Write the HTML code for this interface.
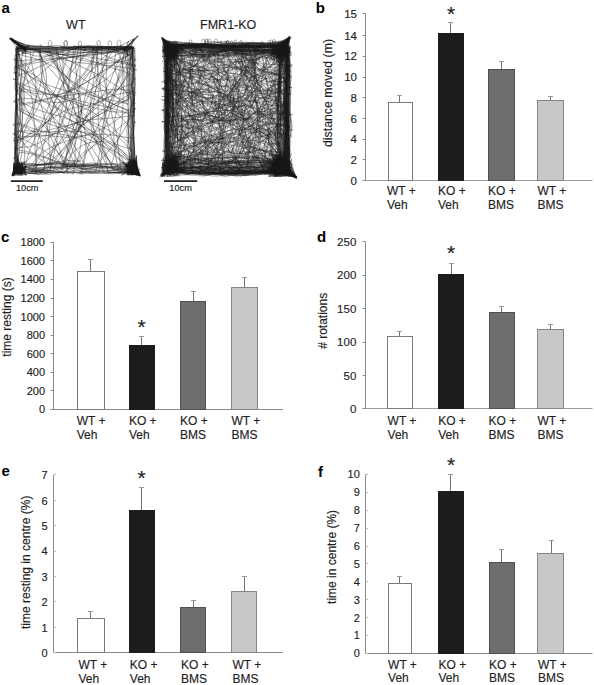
<!DOCTYPE html>
<html><head><meta charset="utf-8"><style>html,body{margin:0;padding:0;background:#fff;overflow:hidden}</style></head>
<body>
<svg width="594" height="685" viewBox="0 0 594 685" font-family='"Liberation Sans", sans-serif' style="display:block">
<style>.tx{fill:#1e1e1e;stroke:#1e1e1e;stroke-width:0.15px} .ln{fill:none;stroke-width:1px} .pl{font-weight:bold;fill:#000}</style>
<rect width="594" height="685" fill="#fff"/>
<text x="1.5" y="12.5" font-size="15" class="pl">a</text>
<text x="315.8" y="12.8" font-size="15" class="pl">b</text>
<text x="1" y="241.5" font-size="15" class="pl">c</text>
<text x="317" y="241.5" font-size="15" class="pl">d</text>
<text x="1.5" y="476" font-size="15" class="pl">e</text>
<text x="318" y="476.5" font-size="15" class="pl">f</text>
<path class="ln" d="M365.5 13.5V180.5" stroke="#8a8a8a"/>
<path class="ln" d="M362.5 180.5H592.5" stroke="#9a9a9a"/>
<path class="ln" d="M362.5 13.5H365.5" stroke="#8a8a8a"/>
<text x="357" y="17.64" font-size="11.5" text-anchor="end" class="tx">15</text>
<path class="ln" d="M362.5 35.5H365.5" stroke="#8a8a8a"/>
<text x="357" y="39.7" font-size="11.5" text-anchor="end" class="tx">14</text>
<path class="ln" d="M362.5 56.5H365.5" stroke="#8a8a8a"/>
<text x="357" y="60.42" font-size="11.5" text-anchor="end" class="tx">12</text>
<path class="ln" d="M362.5 77.5H365.5" stroke="#8a8a8a"/>
<text x="357" y="81.14" font-size="11.5" text-anchor="end" class="tx">10</text>
<path class="ln" d="M362.5 97.5H365.5" stroke="#8a8a8a"/>
<text x="357" y="101.86" font-size="11.5" text-anchor="end" class="tx">8</text>
<path class="ln" d="M362.5 118.5H365.5" stroke="#8a8a8a"/>
<text x="357" y="122.58" font-size="11.5" text-anchor="end" class="tx">6</text>
<path class="ln" d="M362.5 139.5H365.5" stroke="#8a8a8a"/>
<text x="357" y="143.3" font-size="11.5" text-anchor="end" class="tx">4</text>
<path class="ln" d="M362.5 159.5H365.5" stroke="#8a8a8a"/>
<text x="357" y="164.02" font-size="11.5" text-anchor="end" class="tx">2</text>
<path class="ln" d="M362.5 180.5H365.5" stroke="#8a8a8a"/>
<text x="357" y="184.74" font-size="11.5" text-anchor="end" class="tx">0</text>
<path class="ln" d="M399.5 95.5V102.5" stroke="#737373"/><path class="ln" d="M397.0 95.5H402.0" stroke="#999"/>
<rect x="388.5" y="102.5" width="24.0" height="78.0" fill="#ffffff" stroke="#7a7a7a"/>
<path class="ln" d="M450.5 22.5V33.5" stroke="#737373"/><path class="ln" d="M448.0 22.5H453.0" stroke="#999"/>
<rect x="438.5" y="33.5" width="25.0" height="147.0" fill="#1c1c1c" stroke="#1c1c1c"/>
<path class="ln" d="M501.5 61.5V69.5" stroke="#737373"/><path class="ln" d="M499.0 61.5H504.0" stroke="#999"/>
<rect x="488.5" y="69.5" width="26.0" height="111.0" fill="#6e6e6e" stroke="#505050"/>
<path class="ln" d="M550.5 96.5V100.5" stroke="#737373"/><path class="ln" d="M548.0 96.5H553.0" stroke="#999"/>
<rect x="537.5" y="100.5" width="26.0" height="80.0" fill="#c8c8c8" stroke="#858585"/>
<text x="451" y="20.5" font-size="21" text-anchor="middle" class="tx">*</text>
<text transform="translate(332,93) rotate(-90)" font-size="12.3" text-anchor="middle" class="tx">distance moved (m)</text>
<text x="387" y="195" font-size="12" class="tx">WT +</text>
<text x="387" y="208.5" font-size="12" class="tx">Veh</text>
<text x="438" y="195" font-size="12" class="tx">KO +</text>
<text x="438" y="208.5" font-size="12" class="tx">Veh</text>
<text x="488" y="195" font-size="12" class="tx">KO +</text>
<text x="488" y="208.5" font-size="12" class="tx">BMS</text>
<text x="537.5" y="195" font-size="12" class="tx">WT +</text>
<text x="537.5" y="208.5" font-size="12" class="tx">BMS</text>
<path class="ln" d="M53.5 242V409.5" stroke="#8a8a8a"/>
<path class="ln" d="M50.5 409.5H283" stroke="#8a8a8a"/>
<path class="ln" d="M50.5 242.5H53.5" stroke="#8a8a8a"/>
<text x="45" y="246.32" font-size="11" text-anchor="end" class="tx">1800</text>
<path class="ln" d="M50.5 260.5H53.5" stroke="#8a8a8a"/>
<text x="45" y="264.88" font-size="11" text-anchor="end" class="tx">1600</text>
<path class="ln" d="M50.5 279.5H53.5" stroke="#8a8a8a"/>
<text x="45" y="283.44" font-size="11" text-anchor="end" class="tx">1400</text>
<path class="ln" d="M50.5 298.5H53.5" stroke="#8a8a8a"/>
<text x="45" y="302" font-size="11" text-anchor="end" class="tx">1200</text>
<path class="ln" d="M50.5 316.5H53.5" stroke="#8a8a8a"/>
<text x="45" y="320.56" font-size="11" text-anchor="end" class="tx">1000</text>
<path class="ln" d="M50.5 335.5H53.5" stroke="#8a8a8a"/>
<text x="45" y="339.12" font-size="11" text-anchor="end" class="tx">800</text>
<path class="ln" d="M50.5 353.5H53.5" stroke="#8a8a8a"/>
<text x="45" y="357.68" font-size="11" text-anchor="end" class="tx">600</text>
<path class="ln" d="M50.5 372.5H53.5" stroke="#8a8a8a"/>
<text x="45" y="376.24" font-size="11" text-anchor="end" class="tx">400</text>
<path class="ln" d="M50.5 390.5H53.5" stroke="#8a8a8a"/>
<text x="45" y="394.8" font-size="11" text-anchor="end" class="tx">200</text>
<path class="ln" d="M50.5 409.5H53.5" stroke="#8a8a8a"/>
<text x="45" y="413.36" font-size="11" text-anchor="end" class="tx">0</text>
<path class="ln" d="M90.5 259.5V271.5" stroke="#737373"/><path class="ln" d="M88.0 259.5H93.0" stroke="#999"/>
<rect x="77.5" y="271.5" width="27.0" height="138.0" fill="#ffffff" stroke="#7a7a7a"/>
<path class="ln" d="M141.5 336.5V345.5" stroke="#737373"/><path class="ln" d="M139.0 336.5H144.0" stroke="#999"/>
<rect x="129.5" y="345.5" width="25.0" height="64.0" fill="#1c1c1c" stroke="#1c1c1c"/>
<path class="ln" d="M193.5 291.5V301.5" stroke="#737373"/><path class="ln" d="M191.0 291.5H196.0" stroke="#999"/>
<rect x="180.5" y="301.5" width="25.0" height="108.0" fill="#6e6e6e" stroke="#505050"/>
<path class="ln" d="M244.5 277.5V287.5" stroke="#737373"/><path class="ln" d="M242.0 277.5H247.0" stroke="#999"/>
<rect x="231.5" y="287.5" width="26.0" height="122.0" fill="#c8c8c8" stroke="#858585"/>
<text x="141.7" y="333.7" font-size="21" text-anchor="middle" class="tx">*</text>
<text transform="translate(10.5,317) rotate(-90)" font-size="12" text-anchor="middle" class="tx">time resting (s)</text>
<text x="76.7" y="425.2" font-size="12" class="tx">WT +</text>
<text x="76.7" y="438.6" font-size="12" class="tx">Veh</text>
<text x="128.9" y="425.2" font-size="12" class="tx">KO +</text>
<text x="128.9" y="438.6" font-size="12" class="tx">Veh</text>
<text x="180" y="425.2" font-size="12" class="tx">KO +</text>
<text x="180" y="438.6" font-size="12" class="tx">BMS</text>
<text x="231.5" y="425.2" font-size="12" class="tx">WT +</text>
<text x="231.5" y="438.6" font-size="12" class="tx">BMS</text>
<path class="ln" d="M365.5 241.8V408.5" stroke="#8a8a8a"/>
<path class="ln" d="M362.5 408.5H592.5" stroke="#9a9a9a"/>
<path class="ln" d="M362.5 241.5H365.5" stroke="#8a8a8a"/>
<text x="356.3" y="245.94" font-size="11.5" text-anchor="end" class="tx">250</text>
<path class="ln" d="M362.5 275.5H365.5" stroke="#8a8a8a"/>
<text x="356.3" y="279.34" font-size="11.5" text-anchor="end" class="tx">200</text>
<path class="ln" d="M362.5 308.5H365.5" stroke="#8a8a8a"/>
<text x="356.3" y="312.74" font-size="11.5" text-anchor="end" class="tx">150</text>
<path class="ln" d="M362.5 342.5H365.5" stroke="#8a8a8a"/>
<text x="356.3" y="346.14" font-size="11.5" text-anchor="end" class="tx">100</text>
<path class="ln" d="M362.5 375.5H365.5" stroke="#8a8a8a"/>
<text x="356.3" y="379.54" font-size="11.5" text-anchor="end" class="tx">50</text>
<path class="ln" d="M362.5 408.5H365.5" stroke="#8a8a8a"/>
<text x="356.3" y="412.94" font-size="11.5" text-anchor="end" class="tx">0</text>
<path class="ln" d="M399.5 331.5V336.5" stroke="#737373"/><path class="ln" d="M397.0 331.5H402.0" stroke="#999"/>
<rect x="387.5" y="336.5" width="25.0" height="72.0" fill="#ffffff" stroke="#7a7a7a"/>
<path class="ln" d="M451.5 263.5V274.5" stroke="#737373"/><path class="ln" d="M449.0 263.5H454.0" stroke="#999"/>
<rect x="438.5" y="274.5" width="25.0" height="134.0" fill="#1c1c1c" stroke="#1c1c1c"/>
<path class="ln" d="M501.5 306.5V312.5" stroke="#737373"/><path class="ln" d="M499.0 306.5H504.0" stroke="#999"/>
<rect x="489.5" y="312.5" width="25.0" height="96.0" fill="#6e6e6e" stroke="#505050"/>
<path class="ln" d="M550.5 324.5V329.5" stroke="#737373"/><path class="ln" d="M548.0 324.5H553.0" stroke="#999"/>
<rect x="537.5" y="329.5" width="26.0" height="79.0" fill="#c8c8c8" stroke="#858585"/>
<text x="451" y="260.3" font-size="21" text-anchor="middle" class="tx">*</text>
<text transform="translate(327,320.8) rotate(-90)" font-size="12" text-anchor="middle" class="tx"># rotations</text>
<text x="387.6" y="425" font-size="12" class="tx">WT +</text>
<text x="387.6" y="438.5" font-size="12" class="tx">Veh</text>
<text x="438.2" y="425" font-size="12" class="tx">KO +</text>
<text x="438.2" y="438.5" font-size="12" class="tx">Veh</text>
<text x="488.5" y="425" font-size="12" class="tx">KO +</text>
<text x="488.5" y="438.5" font-size="12" class="tx">BMS</text>
<text x="537.5" y="425" font-size="12" class="tx">WT +</text>
<text x="537.5" y="438.5" font-size="12" class="tx">BMS</text>
<path class="ln" d="M53.5 474.8V652.5" stroke="#8a8a8a"/>
<path class="ln" d="M53.5 652.5H283" stroke="#8a8a8a"/>
<path class="ln" d="M53.5 474.5H56.0" stroke="#bbb"/>
<text x="47.6" y="479.37" font-size="11" text-anchor="end" class="tx">7</text>
<path class="ln" d="M53.5 500.5H56.0" stroke="#bbb"/>
<text x="47.6" y="504.74" font-size="11" text-anchor="end" class="tx">6</text>
<path class="ln" d="M53.5 525.5H56.0" stroke="#bbb"/>
<text x="47.6" y="530.11" font-size="11" text-anchor="end" class="tx">5</text>
<path class="ln" d="M53.5 551.5H56.0" stroke="#bbb"/>
<text x="47.6" y="555.48" font-size="11" text-anchor="end" class="tx">4</text>
<path class="ln" d="M53.5 576.5H56.0" stroke="#bbb"/>
<text x="47.6" y="580.85" font-size="11" text-anchor="end" class="tx">3</text>
<path class="ln" d="M53.5 601.5H56.0" stroke="#bbb"/>
<text x="47.6" y="606.22" font-size="11" text-anchor="end" class="tx">2</text>
<path class="ln" d="M53.5 627.5H56.0" stroke="#bbb"/>
<text x="47.6" y="631.59" font-size="11" text-anchor="end" class="tx">1</text>
<path class="ln" d="M53.5 652.5H56.0" stroke="#bbb"/>
<text x="47.6" y="656.96" font-size="11" text-anchor="end" class="tx">0</text>
<path class="ln" d="M90.5 611.5V618.5" stroke="#737373"/><path class="ln" d="M88.0 611.5H93.0" stroke="#999"/>
<rect x="77.5" y="618.5" width="27.0" height="34.0" fill="#ffffff" stroke="#7a7a7a"/>
<path class="ln" d="M141.5 487.5V510.5" stroke="#737373"/><path class="ln" d="M139.0 487.5H144.0" stroke="#999"/>
<rect x="129.5" y="510.5" width="25.0" height="142.0" fill="#1c1c1c" stroke="#1c1c1c"/>
<path class="ln" d="M193.5 600.5V607.5" stroke="#737373"/><path class="ln" d="M191.0 600.5H196.0" stroke="#999"/>
<rect x="180.5" y="607.5" width="25.0" height="45.0" fill="#6e6e6e" stroke="#505050"/>
<path class="ln" d="M244.5 576.5V591.5" stroke="#737373"/><path class="ln" d="M242.0 576.5H247.0" stroke="#999"/>
<rect x="231.5" y="591.5" width="25.0" height="61.0" fill="#c8c8c8" stroke="#858585"/>
<text x="141.7" y="485" font-size="21" text-anchor="middle" class="tx">*</text>
<text transform="translate(29.5,562.3) rotate(-90)" font-size="12" text-anchor="middle" class="tx">time resting in centre (%)</text>
<text x="78.4" y="669.4" font-size="12" class="tx">WT +</text>
<text x="78.4" y="682.5" font-size="12" class="tx">Veh</text>
<text x="129.8" y="669.4" font-size="12" class="tx">KO +</text>
<text x="129.8" y="682.5" font-size="12" class="tx">Veh</text>
<text x="181" y="669.4" font-size="12" class="tx">KO +</text>
<text x="181" y="682.5" font-size="12" class="tx">BMS</text>
<text x="232.5" y="669.4" font-size="12" class="tx">WT +</text>
<text x="232.5" y="682.5" font-size="12" class="tx">BMS</text>
<path class="ln" d="M365.5 474.3V653.5" stroke="#8a8a8a"/>
<path class="ln" d="M365.5 653.5H592.5" stroke="#8a8a8a"/>
<path class="ln" d="M365.5 474.5H368.0" stroke="#bbb"/>
<text x="359.8" y="478.46" font-size="11" text-anchor="end" class="tx">10</text>
<path class="ln" d="M365.5 492.5H368.0" stroke="#bbb"/>
<text x="359.8" y="496.34" font-size="11" text-anchor="end" class="tx">9</text>
<path class="ln" d="M365.5 510.5H368.0" stroke="#bbb"/>
<text x="359.8" y="514.22" font-size="11" text-anchor="end" class="tx">8</text>
<path class="ln" d="M365.5 528.5H368.0" stroke="#bbb"/>
<text x="359.8" y="532.1" font-size="11" text-anchor="end" class="tx">7</text>
<path class="ln" d="M365.5 546.5H368.0" stroke="#bbb"/>
<text x="359.8" y="549.98" font-size="11" text-anchor="end" class="tx">6</text>
<path class="ln" d="M365.5 563.5H368.0" stroke="#bbb"/>
<text x="359.8" y="567.86" font-size="11" text-anchor="end" class="tx">5</text>
<path class="ln" d="M365.5 581.5H368.0" stroke="#bbb"/>
<text x="359.8" y="585.74" font-size="11" text-anchor="end" class="tx">4</text>
<path class="ln" d="M365.5 599.5H368.0" stroke="#bbb"/>
<text x="359.8" y="603.62" font-size="11" text-anchor="end" class="tx">3</text>
<path class="ln" d="M365.5 617.5H368.0" stroke="#bbb"/>
<text x="359.8" y="621.5" font-size="11" text-anchor="end" class="tx">2</text>
<path class="ln" d="M365.5 635.5H368.0" stroke="#bbb"/>
<text x="359.8" y="639.38" font-size="11" text-anchor="end" class="tx">1</text>
<path class="ln" d="M365.5 653.5H368.0" stroke="#bbb"/>
<text x="359.8" y="657.26" font-size="11" text-anchor="end" class="tx">0</text>
<path class="ln" d="M399.5 576.5V583.5" stroke="#737373"/><path class="ln" d="M397.0 576.5H402.0" stroke="#999"/>
<rect x="388.5" y="583.5" width="23.0" height="70.0" fill="#ffffff" stroke="#7a7a7a"/>
<path class="ln" d="M450.5 474.5V491.5" stroke="#737373"/><path class="ln" d="M448.0 474.5H453.0" stroke="#999"/>
<rect x="438.5" y="491.5" width="25.0" height="162.0" fill="#1c1c1c" stroke="#1c1c1c"/>
<path class="ln" d="M501.5 549.5V562.5" stroke="#737373"/><path class="ln" d="M499.0 549.5H504.0" stroke="#999"/>
<rect x="489.5" y="562.5" width="25.0" height="91.0" fill="#6e6e6e" stroke="#505050"/>
<path class="ln" d="M551.5 540.5V553.5" stroke="#737373"/><path class="ln" d="M549.0 540.5H554.0" stroke="#999"/>
<rect x="537.5" y="553.5" width="26.0" height="100.0" fill="#c8c8c8" stroke="#858585"/>
<text x="451" y="472" font-size="21" text-anchor="middle" class="tx">*</text>
<text transform="translate(335.5,556.9) rotate(-90)" font-size="12" text-anchor="middle" class="tx">time in centre (%)</text>
<text x="388.1" y="668.8" font-size="12" class="tx">WT +</text>
<text x="388.1" y="682.2" font-size="12" class="tx">Veh</text>
<text x="438.5" y="668.8" font-size="12" class="tx">KO +</text>
<text x="438.5" y="682.2" font-size="12" class="tx">Veh</text>
<text x="489" y="668.8" font-size="12" class="tx">KO +</text>
<text x="489" y="682.2" font-size="12" class="tx">BMS</text>
<text x="538" y="668.8" font-size="12" class="tx">WT +</text>
<text x="538" y="682.2" font-size="12" class="tx">BMS</text>
<text x="75.8" y="29.2" font-size="12.5" text-anchor="middle" class="tx">WT</text>
<text x="228.2" y="29.2" font-size="12.5" text-anchor="middle" class="tx">FMR1-KO</text>
<path class="ln" d="M10.9 181.1H42.8M164 181.1H197.2" stroke="#222" style="stroke-width:1.6px"/>
<text x="27.2" y="191.3" font-size="9.2" text-anchor="middle" class="tx">10cm</text>
<text x="180.6" y="191.3" font-size="9.2" text-anchor="middle" class="tx">10cm</text>
<defs><filter id="bl" x="0" y="0" width="1" height="1"><feGaussianBlur stdDeviation="0.35"/></filter></defs>
<g fill="none" stroke="#1a1a1a" stroke-linejoin="round" filter="url(#bl)">
<path transform="scale(0.2)" d="M351 581l208-101 47-13 69-9 2-51-5-52 4-71-2-42-19 1-13-4-33-2-15 2-84-8-76 3-27-2-21 2-5 8-35 9-36 4-91 2 198 35 58 17 68 26 72 20 50 22 2 20-2 20-123 47-25 13-22 18-38 47-63 110-30 42-49 57-69 62-41 44-10-3-24 0-73 3-14-3-2-17 4-46-5-47 0-78 6-55 73 30 53 15 36 3 99-4 49 2 52 11 47 17 27 14 26 18 86 70 26 32 0 36 13-18 8 19-20-23 4 22 11-54-31 48 7-19 28 12 1-67 0 81 16 19-4-15-18-5-2 4 8-27-22 1-11 7 33 2-11 16-54-8 46 25-5-19 31 0-7-38 0 20-3 16 3-18-16 21 12-40-20 40 15-22 9-37-47 73 22-52 25 33-10-11-3 5 12-8-10 1 11-21-31 10 31 3-44 12 21-24 3 3 5 27 17 6-2-14-36 1 19 2-15-10 2 25-15-29 5 22 40-13-9 10-5-26-14 46 32-16-82 10 70-39 8-11 0 32-2-8 2 27-9-29 9 2-5-3 1 18-8-47 24 57-48 13-27-40 38 9 19-16 6 13-13 5-32 8 1 4 25-17 5-19 14-4 0 35-26-21 2-8 24-2-1 28 1 25 0-51-27-19-14 5 28 19-20-3 31 6-11-18-15-41 28 59-75 43 75-21-38-9 51 31-40-79 5 35 4-10 7 19-27 8 45 16-49-59 42 69 0-13-36-28 26-8-14 16 22 3-2-16 3 7-31 19 32-37 0 10-33 8 30 23 3-32-41 41 41-52 0 59-43-57 35 6-29 35 24-44-69-2 82 30 0-6-21-24-15 20-12 42 40-18-1 9 9-9 11 5-11-11-7-53 5 71 2-63-39 44 28-15 11 23-6 15 6-60-48-21 36 44-16-18 19 57 9-58 1 39-1-21-12 31 1-45-13 1 2 16 3-5 19-10 18 57-46-35-13 21 38-31-12 1 2-24 19 57-6-41-8 19 1-19-8 35-5-48 20 39-29-39 29 15-31 7 29-20-13 3 15 2 0 12 11 38-11-88-33 38 22 1 11-10-23 59 35 2-12-11 0 3-27-32-2 2 29 1 0-16-10-26-4 60-21-48 16 30 14 4-22-10-35-2 62 37-23-7 23-37 0 20-10-21-40 39 50-38 0-37-32 47 32 43-20-34 6-15-25 33 39 1 10 14-46-36 23 37-5-40 9-20-16 8 17 24 8-17 0-8-14 17 14-19 8 53-8-49 0 5-5-11 5-9-31 53 47 16-36-52-47 8-61 2 45-165 12-62 9-224-1-31-13-58-27-59-17 4-53-1-28 5 0 27 14 124 24 140 15 74 22 74 26 61 35 61 42 52 6-3-14-39 33 55-4-11 1-22-12-128 0-74-6-34-3-52 2-54 2-7-1-42-4-13 4-59-2-31 3-27-2-40 2-39-77 21-40 1-26 5-201-6-75 2-26-2-21 3-40-4-22 1-23-5-26 4-3 8 0 74-1 7 3 92-6 90-6 39 2 17-2 29 4 88 63-16 125-42 119-28 54-16 90-41 138-81-8-32-3-34-5-20-3-58 2-42-5-51-17 4-16-2-130 13-18 51-23 41-110 128-72 108-109 112-40 35-38 25 24 53 11 44 47-12 23-2 15 1 54-3 23-4 26 3 34-2 3-60 6-37 15-64 19-49 25-55 116-230 62-105 15 6 36 7-31 115-24 122-27 93-25 71-40 65-27 32-64 63-68 54-67 1-8-3-16 1-38-4-59 1-19-2 15-1 29 3 26-2 55 6 37-3 25 2 30-2 38 4 32-1 62 3 15-3 10-41 13-69 14-125 25-88 45-119 26-82 34-86 3-8 20-6-4 16-4 90-96-15-90-7-110-13-41-10-121-37-72-27-39 8 2 24 52 158 19 84 8 103 4 122 8 117 0 17-47-1-16-2-35 2 3-44-7-58 1-51-3-101 7-94-9-78 4-38-2-35 2-48-3-76 52 25-12-25 8 20-6-23-51-34 50 34-18-4-34-28 47 19 5 13-47-33 50 37 9-21-74-29 87 67-94-68 68 48-7 3 3-1 13 11-1-13 88-8 33 0 20 3 63 2 33-2 29-6 57-3 14 2 7-2 118 13 36 0-11 65-2 97-5 49-10 53-20 79-8 79 5 92 22 110 17-12 15-7 36-8-13-34-4-23-3-81 3-23-4-27-1-48 1-48-185-80-91-58-31-25-33-33-45-57-51-77-7 2 11 116 18 73 29 78 71 146 15 41 21 77 21 39 54 63 48-4 140 12-12-12-18-6-56-10-50-1-19-3-44-1-7 2-36-2-17-4-64-2 39-66 14-31 17-50 12-53 6-58 1-99-16-141 4-34 12-59 22 4 19-2 24 2 32-4 30 2 16-3 46 4-10 76 6 42 14 37 21 41 49 76-6 20 0 15-9 34-1 56-3 22 2 57-39-34-72-71-52-38-39-23-178-82-37-22-35-27-67-59-49-52 9-40 1-24 30-4 91 15 41 10 61 23 43 18 74 38 87 40 98 64 31 17 29 11-4 40-7 26-2 18 2 71-5 32 3 20-3 30 4 48-2 46 3 23-4 30-32-18-27-4-18 0-58-6-41-7-70 4-104-2-63-5-55 1-46-4-62 6-3-99 2-30-1-48 5-54 1-93-4-27 2-70-2-6 3-49-2-55 2-47 3-10 31-13 0 21 5 6-56-41 36 12 18 19-1-10 4 12-71-50 68 50 21 7-19-7-73-53 53 38 7 9 9 6-15-16 12 15-19-4 23 4-2 8 0-8 18-7-16 12 71-6 14 2 80-5 56 3 27-4 16 3 57-4 81 3 23-6 8 3 47-6 61 6 1 67 6 54-4 77 8 62-9 111 4 43 0 52 4 22-3 46 2 42-1 45-31-1-48-22-35-24-28-28-31-42-24-45-13-41-6-38-1-86 4-59 19-107 17-130 17 1 27-3 38 2 43-3 8 1-33 70-38 97-38 75-149 206-64 78-58 92-9 13-80-3 41-77 13-31 15-52 18-94 11-43 19-48 33-73 35-59 42-57 48-54 44-36 29 6 30-1 39 7 18 1 14-2 58 4-2 15-7 0-57-8-75-19-72-3 58 34 53 23 41 14 77 18-11 34-4 65 2 102-3 24 3 16-3 42 3 49-5 55 1 14-4 65-7 56 0 9 28-15 3-14-23 36-5-57-10 43 34 18-17-40-15-23 36 32-28 25-5-29 21 10 5-8-14-20 21-3 0 30-15-2-22 27 46-8-9-13-17-8 14-13-11 5-6 22-5-21 0 27 25-17-8 14-11-46 19 0-21 44 27 16-6-59-9 36 9 26 7-3-23-66-29 73 45-3-10-17 10-4-14-15-5 30-29-8 48-2-20-37 2-14-2 42 12-39 7 12-31 27 32-25-13 35-7-2 17-16 3-21-1 56 1-38-26-11 6 50-15-13 4-16 31 10-42 13 3-20-9-37 48 48 0-22-37 32 1-39 22-5 7 24 5 0-43 6 33-11 12-34 0 24-29 23 18-29-25 12 8 29 28-60-39 36 14-21 36 44-37 6-30-55 56 23-27-7 25-21 2 12 0 43-3-52-4-6-4 24-25-22 36 29-13 3-34-25 22 54 2-60 23 5-1 45 1-28-20 14-2-4 15 17-16-8 4 14 11-27-13 32 20-46-2 14-17-26 20 43 0-44-26 10 26 1-31 23 18-12-2 37 8-13-12-28-7 24-13-42 31 46 27 17-36-52 17 37-11-27-27-5 28 12 5 17-6 1-61-4-53 6-18-2-30 3-25-1-8-4-16 1-53-4-26 3-13-1-62 1-47-25-49-32-36-27-31-30-35-41-25-36 4-6 13-48 2-61-3-14-2-106-5-22-4-67 6-57-1-49 29 4 25-15-30 14 5-12 1 12-68-49-4 2 38 17 60 17 52 1 23 5 63 0 17-3 32 3 67-4 32 3 73 0-1 46 6 81 49 226 22 85 16 138 2 55-73-6-75 3-25-4-18 2 23-111 22-54 114-220 94-129-9-23-4-87-45-1-16-4-106 5-45 5-26-3-9 2-5 154 0 103 6 50 22 123 3 54-5 47-25 98-20-7-29-15-20-5-49-46-59-42-65-37-85-41 0-21 5-30-2-38 3-62-3-42 6-32-6-98 5-111 49 3 167 27 36 3 44-4 104-21 57-2 29 4 39 9 65 28-5 34 1 48-6 61 3 24-1 53-4 68-4 15 1 29-3 16 0 94 5 33-3 40-97-54-184-84-219-80-39-21-35-24-3-53 3-62-3-20 5-23 0-23-3-33 3-23-4-65 13-17-34-19 68 49-10-13 24 0 70 9 48 0 9 4 43-1 56 4 33 0 37-4 22 2 38-2 17 4 55-4 99 6-18 44-13 61 5 141-61 14-41 16-64 42-59 51-32 36-24 46-38 99-13 56-8 0-16 4-6-2-6 3-31 4-46-4-8 2-15-4-9 3 13-3 34 3 50-5 26-55 88-134 44-71 12-27 49-131 34-66 24-32 31-27 28-19 75-43-12-22-29 4-48 1-6 2-37 1-43-4-26 5-28-17-61 16-51 4-87 29-87 33-86 23 6 41 5-23 1-58-3-56 183 8 61-6 43 6 22-2 34 4 19-1 35 3 63-8 70 0 26-6 31 4-49 13 7-5 3-9-5 11 19-20-20 14 17 7-15-2-24-19 69-37-36 47 35-44-39 72 46-75-33 66-17-10 63-69-64 70 6 69 3 16-2 26 5 146-76-32-84-42-89-56-33-28-38-39-22-30-31-49-56 3-73-5-29 3-21-2 1 13-3 10 4 51 263-16 83-15 89-33 83-6 58 0-8 96 3 25-3 24 2 27-3 139-3 32-8 30-24 47-35 53-78 92-63 59-29-14-30-11-34-9-24-1-48-84-42-100-36-142-23-66-56-98-38-84 7-29 19 22 14 2-62-52 58 52 14 4-77-53 75 59-5-8-27-24 16 48-30-48 39 6-62-34-9-1 69 50 14 14-85-65 45 61 25-9 63 13 26 3 51 1 40 8 117 34 71 13 58 0 49-6 36-7 40-15-6-17-6-32-33 8-32 1-55 13-33 112-9 47-6 78 0 116 8 53 13 54 27 73 33 70 62-9 15 2 15-3 16-37 2 10-17-2 4 15-33 5 1-18 44 14 1-30-58 53 57-21-13 12-24-32 38 16-9 24 9-15-9-8 4 21 5-15-37 18 37-19-3-22-36 52 39-40-3 26-43 5 46-20 16 25-50-12 53 19-45-27 26-37 6 54-41-41 35 11 0-7-52-5 47 18 5-18 0 27-13-36-7 12 20 2 14 33-62-32 32 40 0-73 10 15 6-9-2 37-8-35-17 8-2-20 19 20-10 29 33 15-65-20 15 8-18 8 55 3 0 4-19-18-26 8 23-49-24 46 46 18-11-30 11 38-3-17 20 16-17 1-46-30 37-21-16-6-20-86-2-85 7-63-3-67-97-18-75-19-66-20-50-23-55-42-48-53-25-31-55-80-15 0-21 6-48-1 4 22-3 7 3 6 89 22 54 21 55 32 73 59 62 38 154 81 50 21 43 14 2 79-4 22 3 23 1 67 3 25-1 44 2 37 6 19-45-40 2-19 18-17 25 75-11-34 13-16 0 13-15 9-10 1-33-4-8 2-79-12-37-1-45 4-25-3-54 4-34-3-42 4-23-1-14 3-86-1-7 2-33-3-48 3 16-49 9-71-4-117 2-34 9-25 0-15-1-16 3-29-3-19-1-42 10-109-2-77 58 8 62-4 52 4 55-3 39 4 35 0-24 54-20 66-8 40-8 95-7 49-21 77-25 55-68 102-48 89-39-7-35 1-39-4-5-80 5-28-3-15 2-32 8-35-2-49 2-10-8-72 0-33-3-23 5-86-3-24 4-15 2-38-4-31 7-52 143-7 19 1 6 4 74-2 33 4 53-4 10 2-44 49-34 52-61 121-23 59-10 45-16 105 1 39 9 91-1 64-50-19-59-4 50-61 38-31 51-25 102-37 59-12 57-4 60 4 73 12 33 3 7 70-4 67-44-32-66-54-151-110-34-21-57-25-78-20-71-23-27-13-54-31-5-24 1-43-4-18 146 97 34 20 89 39 129 48 70 37 32 20 49 46 37 43-15 66-2 25 34-9 0 28-46-46 20-10 9 8 17 3-17 42 10-35 10 21-46-2-1-26 44 1-25 16 22 20-4-59-22 44-13-29 42-5-30 52-117 0-16-3-22-65-31-51-14-17-20-19-37-20-40-12-57-11-87-12-75-4-57 5 1 74-6 32 5 97 23-32-34 45 3-56 9 17 20 26-32-32 21 45-1-9-20-3 11 1 27-7 1-4-1 12-5-22-31 2 37 29 13-21-52-7 33-19-18 20-6 20 25-39-29 50-5-32 36-14-28 29-7-2 11-26 25 20-37-34 3 27 35 26 0-20-22-13-12 27-4-19 20-35 18 57 9-23-16 20-12-14-20 26 14-55 25 25-15-2 8 7-9 0 36 4-36-26 13 28-15 12 21-29-50 37 53-4-41-14 24-22-6 1-21-8 13 30-13-13 19-11 47 37-46 0 5-41-5-22-12 45 46-9-30 2-11-15-20 36 7-2 27-23 30 11-53-11-7 30 34-57 17 26-17-11-26 6 13-9-1-2 23 24-8-11-22 10-10 20 7 1 8-31-2-17-6 27-5-12 24 6 156-160 36-28 40-23 54-22 61-13 231-21 0-46-3-48 1-51-5 6-1 10 1 16 5 15 2 38-2 47-4 8 0 7-102 84-145 98-56 53-41 51-15-6-20-2-42-9-51-6-25 4-52-2-30 1 7-5 11 2-18 15 26-5-30-3 46-11-18 16 19 2-60-22 19 11 3-10-11-3-20 42 23-25 19 2 21-13-47 9-1-140 97-49 28-19 32-26 52-62 83-111 60-64 35-33 52-35 39-22 53-25 59-22 3-9-55 6-113 2-32 5-117-6-35 5-77-4 30 54 45 69 67 84 18 38 8 36 0 37-10 66-19 85-37 104-13 52-31-5-40-1-32-7-25 2-36-3-77-1-11-15-6 37 9-40 23-9-24 26-6 19-9 3 44-52-18 20-15 11 5-25-20 54 38-60 9 50 0-52 0 53-24-25 1-5-12 15 6 10-10-26 42 20 13-25-55 25 68-28-23 19 24 16-48-14-11-27 4 13 3 34 38-28-34-3 1 33 24-21-24-8 3 0 5-24 14 15-16 29-1-43 3 15-24 19-8 21 47-50-30 46-15-38 11 25 12-22 18 11-26-12-13-10 31 31 7-51-23 55-7-26-14 43 13-42 31 4-2 12-38 4 64 16-54-16 22 13-9-11 4-46-31 63 34-35-18 16-6-18 10 31 18 5-8-24-5-43-4-62 3-32-3-30 4-23 55-53 32-45 45-97 8-25 4-31-1-31-5-33-38-107-41 6-36-5-25 1-10 97 1 56-2 15-1 41 117 19 61 5 31-1 24-4 36-10 27-11 148-91 82-57 61-35-3-29-42 2-126-6-56 4-86-4-17 2-13-3-15 2 4 6 29 3 10 4-29 96-99 250-72 163-16 52-6 54-39 1 15-157 1-54-4-28 4-28-1-7 5-65 0-22-7-41 1-10-6-36 98 39 286 89 87 17 64 3 43-2-14-58-5-9-8-48 0-46-6-48 3-79-74 88-30 31-46 32-90 57-32 16-44 13-44 4-44-3-84-17-32 0-44 6 6 33 0 55 6 22 1 106 43-38 40-29 148-93 37-14 88-17 36-10 45-19 41-27 20-21 21-26 40-77 14-39-1-8 7-58-35 5-55 1-24 3-90-3-66 6-73-8-92 13-94 8-67 13 3 64 70-21 143-28 165-20 101-9 32-9 57-23 22 4-11 40-5 40-2 36-3 9 2 31-4 47 3 18-7 67-30-15-24-17-93-80-15-19-9-17-7-21-4-28 5-84 80 1 24 6 49-7 16 5 29-1 5 30 8 148-5 94 4 25-3 35 4 42-2 10-7 0 2 25-3 28 7 52-1 27 4 81-1 17-24-40-2 25 23-1-16-35 26 17-12 48 1-45 10 44 3-50 0 26-7-4 21 28-54-58 53 56-29-14-74-14-26 0-7-3-83 6-21-3-15 3-57-5-15 3-71-4-45 3 12-46 21-96 15-117 37-141 16-100 30-112 46 10 56 4 5 55 0 40-8 92-17 103-1 49 1 46 6 36 8 29 64 164 30-12 36-6 51-1 8-81-3-33 6-127-4-63 2-25-3-20 5-41-4-66 1-45-5-19 1-42-4-42-24 4-33-1-58 6-23-3-37 6-74-3-70 1-35 4-14-2-39 2-7-2-30 3-58-3-50 3-24-3 35-3-51-32-19-21 74 43-17-10 9 44 5-27 4 8-1-9-8 19-17 76-1 29 5 31 1 22-7 64 1 38 62-9 101-25 168-20 103-16 52-4 34 1 32 6 31 11-19 46-6 27-63 56-36 26-47 25-59 25-57 15-56 3-158-14-75-14-24-8 15-57 2-62 8-25-2-92 7-69-3-49 78 94 134 137 69 52 93 54 32 22 30 27 63 70 59 47-1 61-66-2-34-17-40-11-63-6-16 2-35-2-32 2-106-219-41-129-17-69-9-52-6-72 2-52 41 6 17 6 24-2 3 79 13 57 62 153 20 36 22 32 27 31 90 83 76 79 80 67-5 10 11-11 14 13-24-33-29-17 34 0-37 46 22-27 22 30-13-74-3 52-23-13 27 34-18-39 20 20-41-14 31-8 7-8-2 18-15-8 26 28-4-30-5-10 11 11-23-15-7 43-51-8-33 1-9-2-57 6-24-8-15 1-31-5-15 2-88-52-28-21-93-84-31-25-38-23-60-26 2-43 3-6 1-15-3-55 1-22 4-10-2-13 21 46 62 113 28 65 15 55 12 101-1 29-56-2-15 3-65 2-2-47 3-16 4-61 60-6 53-22 32-20 33-26 24-28 14-25 16-43 11-59 29-213 6-70 24 13 33 12 44 9 58 2 31-4 42 5 31-7 24 0-213 147-41 24-155 67-97 24-68 9 4 8 93 43 255 91 51 33 108 93 73 47 2 15-14-9-33-13-49-11-98-4-7 2-57 3-94-5 54-64 21-17 23-14 22-9 22-6 32-3 30 1 23 5 26 12 28 18 23 19 45 54-7 43 23-14 16 23-20-17 5-8 0-12-3-6 3 40-9 9 21 1-29-75 17 34-8 21-13-15-3 24-18 4 42-43-24-1-9 3-21 1-28-2-57 10-6-2-27 4-45-2-34 6-31-67-47-78-32-46-40-51-30-32-108-96-65-46 0-40 6-40-1-66 2 6-3 44 63 46 38 23 40 19 43 16 80 23 81 18 56 24 67 41 37 27 81 86-7 17-5 29-7 88-3 16 0 46 1 8 35 17-72-64 72 31 11 29-11-29-18-18 0 28 1-15 17-18 20 61-20-17-55-30 46-11-4 6-14 6-76-1-154 10-28-1-55-13-151-57-64-16-57-9 24-47 12-47 7-65-1-34 4-59-2-45 5-23 68-46 78-67 99-71 58 7 16 6 43-1-37 74-23 35-158 184-24 33-14 26-26 62-10 41-7 54-5 100 27-14 37-13 29-3 29 2 34-4 59 0 62-4 29-6 39-2 145 2 6-72-3-32 1-27-4-23-3-46 1-18 5-24-3-16 3-33-3-9 4-15 0-84 4-51-4-119-3-18-38 16-6-2-9 5 12-6 13 22-15-23 11 13-11-14-36 5 38-8 13 37-12-33 15-41-18 40-8 2-13-3-43 14-48 10-149 16-71 12-54 17-94 44-59 22-1 70-3 39-4 15 1 41-2 41 2 13-5 23 2 15-1 40 5 54-5 54 3 35-1 33 48-18 56-10 56-5 18 1 103-4 55 3 48-5 16 3 31-1 17 4 6-3 30 2 11-1 39 4 57-3-3-20 2-32-5-24 2-48-2-48 3-17-1-43 2-7-51-23-64-20-141-30-74-20-205-41-43-3-5 54 5 81-3 30 1 67-2 9 3 16-4 47 23-51 34-87 27-59 10-35 4-42-2-63-22-100-9-75-49-5-16 1 6 9 6 19 3 45 9 48 3 63-4 62 2 13-2 65 51 28 40 26 31 27 32 37 14 18 15 28 26 76 27 62 63-9 24 0 61 6 17-5 41 2 64-5 52 2 15-21 6 45-3-16-8-7-4-28-4 23 15-27-39 8 28-6-11 2 13 15 25 41-65-19 49-19-6-18 26 52-24-41 19 44-14-2-7-50-24 20 31-14-3 28-13-36 22 49-6-41-27 29 27-45-12 12 26 47-40-34 6-25 20 27-16 7 16-42 0 26 0-4-16 21 31 27-15-35-50 24 19-25 20-20 11-1-27-8 25 7-31 20 18-19-2 4 12-15-17 20-3 20 7 14 18-74-34 45 26-9 8 3-29 3 22 23 5 16 19-24-26-3 10 22-1-33 1 32-28-28 37 35-34-47 5 18 20 18-58-33 55-8 14 48-51 7 33-21-10-4 27 22-21-49-38 14 48-16-27 46 27-10-23-16 29 20-6-21-43-26 20 35-22 3 37-4 8-33-18 14 18 23 0-9-11 18-16-18 27 3-2-27-12-24-3-15-15-32-8-45 3-25-5-54 5-109-3-26 3-57-7-71 1-36-4-16 3-30-3-42-32-3-41 3-26-3-36 4-58-3-27 3-43-3-17 2-27-1-29-6-20-1-30 4-13-1 25 54 43 77 75 151 26 40 42 52 19 32 38 82 13 35 15 50 8 60 24 0 8-3 22 2 27 0 14-4 30 3-8-136-1-68 3-18-6-90 2-55-5-24 2-44-5-47 2-22 4-10-4-32 4-43-68-8-137-29-63 0-17 3-54-1 2 165 6 75 14 68 33 99 7 42 0 98-9 86-57-25-103-21-42-5-80 0 1-66 3-30-2-27 43-88 48-107 23-73 12-74 0-32-3-28-9-30-13-33-22-1-30 3-8-4-13 2 67 19 31 0 8 4 85 7 28 5 17-3 43 1 33-2 9 2 118-9-55 47-37 39-67 96-26 44-31 66-55 135-18 52-18 80-16 55-8-5-36-8-60-10-43-2 10-5-5-60-16 67 6 9-7 15 21-42 12 37 20 6-51-54 1-106-3-17 9-91 0-104 1-21 4-10-2-56 11-49-2-26-7-34 0-65 6 3 152 13 23-5 93-6 39-8 60 3 47-4 19 4 76-5 61 2 3 17-33 74-23 45-50 78-30 39-38 41-25 24-37 29-80 55-34 17-42 15-55 10-97 3-52 7 4 18 0 20 7 70-1 62 36 15-23-25-19-3 11 9 21-12 16-33 7 24-29 34 12-28 16 23-16-40 5 31-38-7 15 0-1-16 39 43-9-36-37 30 42-64-59 41 31-14-11 28-5-15 42 18-19 2-15-53 24 5-34 34 25-13 30-8 54-6 16-6 83-7 13 3 32-1 71-8-54-3-51 5-228 44 0 6 39-15-23-2-20-27-1 59 19-33-8-28-10 9 8 7 8 1 78-8 47 3 33-6 44 1 48 5 146-2-47-91-38-86-34-143-17-51-28-59-62-107-22-42-58 4-29 82-39 124-26 108 20 40 16 76-2 26 6 21 2 27 1 32-3 31 4 42-22 20 10-65 5 35-49-14 48 24-1-21 20-4-56 12 25-8 22-4 82-4 76-7 100 1 14-60 8-53 0-41-6-68-11-70-13-35-46-86-13-30-18-64-15-76-24 7-60 0-16 3-85 3 47 21 32 9 39 1 89-10 70 3 177 29 116 25-11 59 2 15-5 35 3 83-1 26-4 8 1 25-2 6 3 7-3 32 4 16-1 31-2 24 0 61-5 15 1 21 5 62 19-33 6 26-9 6 12-35-54 19 21-27 18 36 15 1-53-19 47 4-21 5-40 27 47-13 0-17-40 12-49 5-53-93-23-34-139-148-102-126-47-46-34-27-39-19-50-16 6-16-1-50 4-14 1-22 27 5 12-1-15 1 8 17-8-19-46-36-28-13 73 48 27-20-24 20-60-41 69 26 43 6 152 6 36-2 14 2 65-7 27 3 0 17-1 51-8 48-57 224-12 38-28 65-37 120-22 59-72-6-60 0-42-5-47 4 28 9-12 1-30-14-2 30 39-11-10-48 4 24-31 12 0-4 20-8 28-19-17-7-17 9 12 3-26 7 4-14 0-37 5-23 1-41 4-16-5-99 4-36-2-23 3-29-2-63-3-7 3-17 0-73 39 33 58 44 67 57 22 23 44 55 33 28 39 22 70 32 72 45 39 20 45 17 56 15-21 69-2 37-23 7-21-1-97 8-51 1-36-4-75 0-33-3-23 2-58-3-81 7 15-3 18-10 22-6 58-12 137-5 46 2 10-2 54 3 26-2-94-6-45 1-36 5-81 18-43 4-69-9-77-20 10-27-3-8 5-29 56 8 74 20 185 70 86 1 20-152 4-114 11-119-1-99 4-89 6-44 18 3 67-1 36 4-1 34 3 35-2 7 3 20-5 32 1 88-48 27-89 64-79 48-83 54-151 139-36 42-17 26-44-4-24 2 17 0-31 6 50-31-20 13-38 0 17 4-10-33-1 51 19-48 3 3-28 8 0 33 20-9 0-66 9 33-8 32-7 4 7-66 4 54 25-2-26-14 2 7-22 1 25 8 7-8-42 30 9-36 24 11 4-2-31-11 5 34-1-23 4-7-7 27 32-27-33-19 27 18-16-31 9 45-17-37-3 52 7-42-15 50 23-35-3-1 17 21" stroke-width="3.5" stroke-opacity="0.55"/>
<path d="M21.2 46.3L10.3 37.0M22.8 44.6L10.5 38.1M25.0 47.2L10.2 37.9M123.9 49.2L137.9 35.3M126.0 49.1L138.3 36.5M125.1 48.1L138.6 35.3M18.4 168.5L12.9 176.0M19.3 170.0L12.9 175.9M18.1 172.7L11.3 175.8M133.0 171.4L139.6 174.9M133.0 167.2L139.8 176.2M132.3 168.4L139.8 176.6M64.6 46.0c-3.0 -6.1 4.6 -7.6 2.1 0M97.7 46.0c-3.3 -6.6 4.9 -8.2 2.3 0M64.8 46.0c-3.3 -6.6 4.9 -8.2 2.3 0M108.9 46.0c-3.1 -6.2 4.6 -7.7 2.2 0M118.0 46.0c-3.4 -6.9 5.2 -8.6 2.4 0M79.0 46.0c-2.9 -5.8 4.3 -7.2 2.0 0M49.1 46.0c-3.3 -6.6 4.9 -8.2 2.3 0M17.0 158.1q-2.1 0.8 -3.4 0.2q1.0 -0.8 2.7 -0.6M17.0 134.2q-2.5 -1.3 -4.2 -0.4q1.3 1.3 3.4 1.1M17.0 140.8q-2.2 0.7 -3.7 0.2q1.1 -0.7 3.0 -0.5M17.0 101.3q-2.3 1.1 -3.9 0.3q1.2 -1.1 3.1 -0.9M17.0 125.1q-2.5 -1.9 -4.2 -0.6q1.2 1.9 3.3 1.5M17.0 72.6q-2.0 0.6 -3.3 0.2q1.0 -0.6 2.7 -0.5M17.0 79.1q-2.4 0.5 -4.1 0.2q1.2 -0.5 3.2 -0.4M17.0 59.6q-2.0 -1.1 -3.4 -0.3q1.0 1.1 2.7 0.9M133.0 65.7q1.4 -0.7 2.4 -0.2q-0.7 0.7 -1.9 0.6M133.0 79.1q1.5 -1.9 2.6 -0.6q-0.8 1.9 -2.1 1.5M133.0 108.9q1.9 0.4 3.1 0.1q-0.9 -0.4 -2.5 -0.4M133.0 122.0q1.6 1.6 2.7 0.5q-0.8 -1.6 -2.2 -1.3M133.0 60.1q1.9 -0.9 3.2 -0.3q-1.0 0.9 -2.6 0.7M133.0 103.1q1.4 1.3 2.3 0.4q-0.7 -1.3 -1.9 -1.1M133.0 99.3q1.3 0.5 2.1 0.1q-0.6 -0.5 -1.7 -0.4M133.0 70.0q2.2 -0.6 3.6 -0.2q-1.1 0.6 -2.9 0.5M82.3 171.5q1.3 1.8 0.4 2.9q-1.3 -0.9 -1.0 -2.3M67.7 171.5q0.6 1.6 0.2 2.7q-0.6 -0.8 -0.5 -2.2M63.2 171.5q0.4 1.0 0.1 1.7q-0.4 -0.5 -0.3 -1.4M80.7 171.5q1.9 1.8 0.6 2.9q-1.9 -0.9 -1.5 -2.3M84.8 171.5q1.6 1.2 0.5 2.0q-1.6 -0.6 -1.3 -1.6" stroke-width="0.7" stroke-opacity="0.5"/>
<path transform="scale(0.2)" d="M1122 632l-32-61-21-78-43-72-27-33-44-42-31-16-26-6-29-2-46 6 16 47 43 94 8 23 31-2 32 3 64 13 87 13 53 15 53 23 72 51 94 87 29 40 24 64 0 16 3 6-3 33-51-13-47-7-23 5-56-3-77 6-26-4-30 4-55 0-37-4-18 5-45-3-9 1-2-44 5-26 13-25 25-24 17-10 43-16 106-34 52-14 32-5 54 0 27 2 23 5 12 6 18 14 61 62-24 42-35-31-47-63-151-163-25-17-36-13-36-6-27 3-16 6-22 13-19 21-7 13-5 19-1 20 2 17 6 19 14 24 58 77 11 19 8 23 4 56 13 53 27-7 20-3 15 3 28-5 16 2-50-8-8-5-7 0-21-7-30 1-24-3-101-27-73-16-60-4-8 0 1 6 39 66-27-8-1-39 25 10 7-6 14 20 41-34-104 64-3 10 85-60-74 44-21-40 71 29 38-18 42-9 22-31 23-21 41-29 48-42 32-11 20-1 23 3 18 7 18 13 18 21 9 17 7 24 2 21-7 36-17 34-46-18-46-55-36-27-35-20-20-6-126-8-75-13 6-16 4-21 13-46 0-140 5-26 1-64 7-79 0-20-4-18 1-35 37 35 35 28 203 121 75 59 33 16 35 5 93-13 59-14-23-50-17-63-1-51-5-25 3-15-3-17 3-26-64 17-48-4-37 5-59-2 21 112 22 73 13 25 39 52 13 23 8 22 19 81 12 31 60 87 34 37-3 32-5 29-10 1-48-6-10 3-53-5-16 3-57-3-15 3-30-2-8 4-12-1 37-125 18-39 21-20 64-37 19-15 102-114 7-17 9-46 0-30 3-7-4-23 1-15 4-16-5-44 3-29 5-20-2-27-40 10-15 1-36-4-44 1-24-5-8 2-27-6-18 4-16-3-8 4-28 2-8-4-26 0-13-3-59 2-32-1-17-3-17 4-17-1 63 75 48 44 16 9 18 6 66 5 24-3 24-6 21-13 14-16 10-24 4-33-2-22-6-25-26 17-9 3-37 6-18 5-30-2-58 2-32 2-21 5 35 8 41 0 56-13 95-36 80-2 40-7 1 8 17-1-31 68-7 22-2 24-5 14 4 51 4 8 4 38-3 42 2 63 4-73-4-67 3-50 13-71 16-42 2-8-2-6-25-6-14 2-18 0-5-4-33 0-30 4-8-2-42-1-15-4-52 5-26 0-6-2-27 2-47-1-55-8-49-2-9-3-30-3-44 2-15-4-16 5-20 1 8 45-1 16 20 37 9 28 2 25 0 68 11 49 15 27 25 25 25 14 32 7 33-2 27-10 50-32 33-26 29-36 39-76 18-27 49-53 25-21 22-12 57-23 15 4 25 15 23 10 8 39-2 25 5 15 0 29-5 23 3 23-5 4-1 6 3 18-1 32-12 89 7 82-5 36-1 52 7 48-17-39-6-45 5-51 17-38-3-22-7-17-52-16-21-1-22 4-33 16-13 16-10 17-16 47-13 71-15 53-28 77-15-6-68-43-42-19-34-2-25 3-62-4-17 3-52-9-9 1-18 39-19 19 5 10 14-9 70-34 8-2 34-52 9-32 2-29-1-18-6-23-13-25-21-28-17-18-57-41-27-23 3-34 6-25-2-23-7-29 4-16-2-45 2-18-3-14 0-25 2 17 7 17 8 75 0 29 5 28-4 16 3 23-2 16 2 21-5 24 2 14-5 14-4 34 3 45-2 37-3 7 4 19-1 25 6 99 24-6 6 3 24-10 36-3 50 2 17-5 35-2 24-5 17 2 7-3 29-2 38 3 18-70 25-74 12-46 12-106 10-30 11-22 53-94 15-21 20-20 22-17 27-13 19-4 33 0 1 7-5 17 1 12-93-9-22-5-22-9-41-22-34-31-18-28-31 10-15 0-26 7-65 3-6-4-7 0 44 53 68 100 16 36 10 32 6 31-1 18-3 13-11 19-12 14-17 13-29 11-84 16-37 16-45 25-20 16-17 20-12 18-10 23-4 24 1 17 11 33 17 27 16 18 66 0 6 3 17 1 57-3 13 4 49 3 92-2-1-69 5-26 18-48 6-26 4-35-2-24-10-36-35-61-27-58-22-71-17-77-25-50-15-38-89-13-44 5-43-1-22-5-14 2-42-4-20 3 4 24 9 17 7 43-4 68 9 150-2 23-1 75 7 142 92-32 61-30 35-28 57-59 23-14 39-8 91-1 37-7 37-16 83-45-1-10-56-13-70-25-51-4-31 3-30 10-85 49-31 11-16 3-22-1-57-18-25-14-37-28-81-44-12-49-2-25 2-16-4-14 6-15 0-18 6-26-2-47 16 4 21 0 17 4 37-4 38 7 38-4 20 1 24-3 7-4 9 3 6-2 54 3 19 41 18 26 26 22 30 14 53 10 76-6 74 9 32 1-2-17 4-24-1-35 6-22 1-24-20-29-2 27-1-18-62 40 7-17 12 18 17-20-15 38 59-88-7 39-32 34-28-1-18 9 61-14-3-11 16 10 4-44-29 51 31-57-30 23 5 30-26-10 40 42-11-73 21 78-14-27-59 4 53-21-33 32 5 3 33-60-88 0 103 32-4-9-70-37-25 13-52 20-8 5-30 7-56 4-33-4-65 10-101 8-23-6-24 2-46-5-28 3 22 36 61 75 31 31 31 26 24 25 16 23 13 30 19 83 19 163-1 35-9 61-26-3-3-43 1-23 23-76 8-43-11-69-2-45 5-103-22-122-7-68 6-23 16 2 36-2 21 2 37-1 23 20 15 20 13 20 52 110 9 22 13 49 41 95 12 20 70 86 3 25 13 46-3 13 2 10-2 36-5 18 0 29-15-7-20-14-43-15-86 5-71-2-61-7-63-21-17-2-31 3-33 11-27 19-26 29-64-24-34-6-4-27-7-22 4-33 10-28 6-58 0-65 5-16-2-40 3-37-3-44 5-32-8-63 2-33-1-37 2-7-4-48 20 8 24 4 9 5 55 8 43 1 19 33 21 26 20 18 36 26 16 9 24 6 44 4 20-4 13-6 31-24 23-25 42-53 36-34 42-7 23 1 9-3 4 93 4 7 2 26-5 29 3 146-5 14-4 51 3 34-1 9 5 25-6 95 5 27-3 25 5 46-9-1-17-28-48-46-20-26-17-32-25-66-6-36-3-57-7-44-14-29-31-50-5-15-3-23 6-29 58-138 47-6 62 1 30-5-85 70 48-52-4 19-28 56 67-108-32 69 14-68 40 33-104 23 84-45 16-37-18 28-38 26 55 24-11-49-47 50 31-32-57 0 43 50 34-74-32 40 24 18-79-1 72-21 5 32 6 16-3 48 1 53-44-14-89-51-81-36-40-27-13-13-10-16-17 2-16-3-9 2 30 54 21 28 19 15 84 51 22 21 23 38 19 67 11 24 49 53 47 36-1 17-16 33-5 34-3 6-8 56 1 26-6 22 2 32-63-27-16-2-14-6-16-1-42-12-23-1-18 3-31-3-96 3-27-2-27-7-75-29-30-17-33-26-55-56-2-16 3-21-3-18 3-30-2-45 6-44-1-27-4-6-5-42 4-16-4-121 5-45-2 18-5-35 40 67 0-19-60-71 54 80-39-66 68 47-32-33 2 18-9 40 12-14 24 2-38-36 17-16 17 6 38 7 91-1 15-5 24 3 49-5 38 0 28 7 34 4 64-5 23 4 14-4 18 2 34-3 30 4 25-4 17 1-19 48 0 6-11 38-2 14 3 80-5 20 3 6-2 16 4 51 5 34-2 10-1 43 2 11 1 46-3 8 0 25-4 8 1 14-2 17 4 34-3 33 5 38 0 23-16 6-33 4-30 8-9-2-42 9-7-3-35 1-18 3-7 5-9-3-16 2-16-5-25-2-47 2-22-5-18 2-40-5-89 1-24-3-45 4-12-5 32-82 6-40 7-25-1-23 3-13-6-31 0-26 3-10-2-27 3-8-5-23 1-120-10-57 1-16 37-10 31-12 145-75 85-30 38 19 8 2 84 2 56 8 15-1 14-5 39 4-7 47 1 27-3 29 0 18 3 8-3 39 1 46 3 17-1 10 4 36-3 17 4 18-6 31-2 79 6 51 4 16-6 101-17-3-14 3-28 0-123-16 45-49 38-71 21-32 24-27 49-47 29-33-5-25 4-65-2-19 3-23-2-28 3-14-4-21 3-8-2-41 3-25-4-6 1-23-1-20-3-6 2-20-15-6-36-4-84 4-14-4-17 6-34 4-52-3-33 2-23-4-32 2-7-3-42 4-60 0-34 3-63 0-15-4-42 3 26 64 27 17 36 28 95 110 64 58 47 58 34 34 22 16 31 18 80 19 34 14 21 12 37 29 40 26-11 22-7 26-1 65-7-1-32 8-17-1-18 5-32-4-37 5-84 0-33-28-38-18-72-12-83-8-26 2-15 5-54 36-16 5-6-2-1-7 3-57 37 2 72-4 36-14 36-28 21-26 20-35 23-53 32-59 29-75 18-35 17-24 50-61 14-21 13-35 11-59 9-27 22 3 5-3 50-5 25 4 41 2-50 36 13-12-10 57 39-60 39 26-26-70-75 96 63-46-37-30-15 57 46-27-85 33 88-52 26-48-6 26 1 21-4 33 3 10 0 38 5 35-2 8-2 67 6 59-1 46 4 28-3 33 5 41-3 25 3 15-5 34 4 55-6 54 4 16 0 24-50-13-17 1-1-25-7-47-7-30-9-23-21-29-59-61-35-32-40-29-32-13-35-6-82 10-34 13-23 13-16 18-11 24-3 29 6 26 15 21 22 20 91 59 30 29 39 43 14-1 27 3 25-4 18 4 28 0-5-9-7 5-33 10-58 6-45-5-88 4-23-3-19 3-22-3-25 3-37-3-9 1 8-1 50-25 49-16 24-3 36-46 46-49 20-34 10-33 1-34-7-40-16-48-16-26-14-11-16-9-15-4-18 0-27 4-15 6-94 63-77 38 16 34 15 24 12 29 26 38 0 10 47-103 9-30 5-33-1-27-5-34-8-24-14-26-16-20-20-16-57-26 0-46 7-32 1-52-2-24 22-7 23-3 16-2 21 3 42-4 9-4 65 3 29-4 10 3 68-1 10 2 14-5 39 2 39-5 23 0 18-4 26 0 6 4 16-2 15 3 39-5 25 1 6 33 1 52 5 21 4 6 5 51-5 32 0 30-2 10-6 1-2 13 3 13-4 58-7 44 6 20 2 30-3 70 2 7-25-34-29-48-14-34-5-30 6-36 13-29 24-32 36-29-1-9 5-32-7-75 8-58-2-26-50-10-18 0-17-5-97 6-24-4-33 5-23-1-42 7-66-3-86 7-29-6-67 7-44-2-9 3 1 41-2 8 2 15 43-19 74-8 31-13 28-22 24-2 80 11 31-5 15 4 28-3 14 4 58-10 23 5 21-2 12 1 20 6 42 2-64 6-31-6-37-14-49 0-36-6 26 74 27 54 28 31 52 39 40 34 27 36 36 73 31 34 2 7-2 19-6 22-1 31 3 25-5 32 1 30-4 21 0 65 65 30-114-115 45 31-18 18 46 60 15-18-48-47 15 29-32-9-47 0-40-6-30 0-20-3-10 1-8-3-45-4 4-44 8-26 13-23 25-22 30-16 34-10 76-14 32-1 29 3-17 30-2 28-4 10-1 40-61-8-58-20-84-22-23-2-30 1-26 7-79 32-105 13-29 7-59 28-42 30 4 9 21-11 62-21 39-8 34 1 27-8 46-2 34 4 49 1 8-3 16 2 51-3 8 2 71-4 34 3 31-4 69-3 7-16 7-58-4-14 5-16-2-49 2-7-2-44 2-27-5-17 5-32-1-53 5-44 0-131-3-26 1-29-38 3 41-55-6 25 7-22-91 71 24 15 6 33-18-59 3 47 7-47 54-31-38 22-40 42 67-50-69 3 20 83 36-49 13-49 0 63-16-25 21-5-62 10-6-16 70-19-41 33 49-49-87 88 56-34 5 30-32-53-28-4 97-45-69 38 49-10-29 67 13-44-47 59 63-71-12 24 2-9-61 32 32 15 26-44-12 17-11 68 36-111-64 49 39-9-25 2 37-43-13 57 40-88-8 6 10 0-74 45 21 55 3-47 24 20 22-68-21 28-1 32-49-26 57-27-18 81-13-39 54-65-59 79 4-15 34 47 1-87-9 41-46 12 35 18 11-4-52-21 6 35 49-58-12 9-43 19-6-2-33 8-9-1-30 34-58 53-49 60-19 31-13 36-2 28 2 33 6 26 8 18 23 37 47 65 10 21 13 38 11 23 63 90 8-1 16 6-5-4-9 0-8 3-42 1-61 12-30-3-9 4-9-1-9 3-23 0-24 4-22-2 0-8-19-11-60-15-22 1-20-5-27 2-24-1-16 4-58-4 30-57 26-38 13-29 6-37 6-111 7-36 11-22 54-86 21-22 19-15 151-102 91-52 23 12 33 10 33 4 25 1 18-3-9 15-11 55 0 21-3 14 3 33-5 12 2 23-4 23 3 7 2 33 6 30 2 33-3 9 2 16-3 9 1 68-4 17 10 48-58-70-79-89-41-69-10-28 0-26 4-17 7-15 15-19 38-28 68-33 73-69-2-7-68-1-35 2-25 9-30 16-24 20-20 22-16 26-13 33-11 39-10 50-10 28-17 30-37 36-38 23-42 12-30 4-113 1-37 7-30 12 16 33 13 37 4 64 4 9-5 28-1 56-37-45 56-17 0 19-60 13 34 48-6-59-8 46-4 7 16-11-40 26 64-78-53 2-15 74 39-68 49 18 6 15-59 17 40-98-33 77 44-17-81 54 106-36-59-8-23-26 38 45-58-9 65-71-64 110 49-55-10-27-21 53 43-77-41 95 59-89-38 22-29-22 66 99-12-72-45 29 28 11-24-51 83 56-65-26-20-18 31 46-49-38 25 40-29-22-2 13 81-33-69 36 10-2 11-10 62-72 18-29 16-44 2-46-6-41-17-45-32-61-8-31 0-20 4-15 9-15 11-12 28-16 35-8 135-21 64-15 34-1 40 10 30 22 9 13 6 15 3 19 1 25-6 24-13 37-65 128-40 100-19 63-1 57-76 6-19-2-42 3-36-5-16 3-42-3-6-3-22 7-9-2-14 3-24-2 7-32-2-22 2-28-1-53 2-9-4-64 2-43-2-11 4-25-3-29 2-27-1-22-4-10-4-30 2-9-4-15 4-62 24 23 17 22 10 18 7 22 0 21-3 18-25 72 1 17 4 15 15 23 45 47 32 21 26 10 42 5 60-12 29-10 168-71 46-28 22-22 15-30 6-36-5-111-7-35-37-62-18-21-20-13-21-7-29-5-34 0-25 4-25 11-16 10-49 39-44 30-47 16-38 4-20-2-19-5-34-22-60-57 1-25-2-10 22 2 16 6 95 6 49-7 20 5 29-2 49-8 40 5 27-6 15 2 46-6 31 6 19-2 27 2 20 6 74 3 16-3-38-7 51-28-38 57 10 14-23-5 19-8 14-26 3-24-25 21-51 29 28-10-24-35 56-5-14 18 16 32 9 26-1 6 9 48 3 68 3 17-4 53-6 22 3 28-5 29-68 45-62 31-24 18-26 31-23 55-15 26-15 17-18 12-24 9-70 15-32 11-35 17-25-11-16-13-34-19-51-13-22-4-18 1 61 34-36-28-2 82-8-64-18 10 31 29-17-106 24 112-22-28-35 26 16 8 40-64 8 1-71 38 103 11-83 10 24-28-38-34 44-5 9 39-56 12 51-63-35 59-12 29 35-46 52 18-50-29 24-30-25 57 19 35 57-40-36 19-48-17 52-52-64 63 16-50-34 29 64 34-59 9 53-81-54 23 36-67 47 23 39 28 25 13 27 4 38-7 28-12 67-38 67-30 13-9 57-52 88-53 21-16 36-38 15-30 6-33 2-48 3-13-2-19-5-7 5-20-83-25-23-4-27 4-46 18-29 17-47 34-17 21-10 20-5 22 2 26 14 41 12 25 12 18 18 17 60 47 72 45 19 16 17 20 30 55 25 36 2 10-35-15-27-19-19-27-4-22 5-34 16-33 38-60 30-35-12-31 1-13-5-43 4-26 0-29-28-13-27-23-12-21-3-29 7-24 19-24 21-10 25-2 13 0-40 80-8 36 2 48-5 16-2 31-3 7 7 27-4 49 4 15-3 19 1 25-4 31 0 19 7 23-3 8 4 49-3 53-4-76 85 87-55-56 48 58-49-67-33 72 29-33 16 35-19-53-39 54 53-43-45 20 20-33-44 6 103 30-67-47 7-18-63 62 82 13-4-51-23-29 28 13 5-29-8 31-45-1 74 56-49-11 33-25-29 16 62-18-22-5-52 1 38-56-51 30 102 92-7-14-53 13-57-41 78 13-84 11 40-73 44 13-13 56-54-67 36 25 52 46-61-72 48 12-40 29-9 1-53-1-52 4-25-3-12-4-34 2-20-4-18 6-43 0-38 5-15-3-24 3-63-6 60-5 90 0 75-7 106 5 105-4-6-10-30-70-3-25 0-27-84-27-22-3-17 1-31 9-59 25-83 47-42 16-21 6-23 2-21-5-21-10-81-59-15-17-14-28-6-25 1-26 8-26 27-64 4-35-4-18-10-21-21-26-28-26-2-10 3-48 5 4 4 32-2 63-5 29 2 39-3 9 3 28-2 6-3 42 5 96-1 19 119-50 22-13 21-15 22-23 17-25 19-36 9-31 0-25-8-27-62-98-35-50-71-68-24 1-24-3 0 19-5 18 1 23-3 17 3 79-4 15 5 16-12 107 0 17 6 22 0 49 4 30-11 73 4 81-10 63 48 7 44 0 90 7 159-6 44 5 30-4 34-1 16 2 30-3 27 3 24-6 29 4 7-2 31 7-12-29-61-19 57 18 0 14-2-62 16 80 3-45-58-10 63 30-2 36-15-56-25 5 4-30 13 37 29 23-6 8 24-77-10 50-1-27 1 16-105-37 106 72-58-22 31 19-21-25 45 25-54-24 89 48-43-107-20 11-55 46 31 45 24-57 12-4 5-44 8-29 3-53-6-48 4-39-8 3-3 33 3 26-6-6 9-50 0-10-3-6 4-16 2-37-3-8 1-39 7-39-3-6 3-17-4-11 2-17-4-9 9-46-5-58 2-58-11-4-53-8-8 2-34-10-24 4-47-5-56 3-29-4-8-3-15 3-44 0-53-5-32 7-44 2-38-5-36-2-8 2-18-3-52-2 2 24 19 72 4 43-6 33-19 56-4 29 3 30-3 32 1 32 9 55-6 51 4-4 0-16 32-12 42-10 23 0 21 4 23 10 17 12 20 27 13 33 10 102 5 27 11 25 64 3 24 4 5-2 15 2 48-5 7 2 16-4 69 2 8-3 23 1 18-4 6 2 18-1 15 4 25-2 7 2-13-28-8-41 2-21-4-40-7-25-1-13 2-23-5-15 1-18-3-13 4-6-1-24-5-32 0-17-3-16 1-39-53-50-18-22-18-26-24-50-20-28-30-33-52-47-46 19-29 7-109 8 30 7 48 18 135 60 21 11 21 20 28 43 5 15 2 22-4 21-13 41-11 20-17 20-29 18-43 13-52 0-60-9-45-17-67-45-20-22-12-30 0-12 3-13 14-21 15-17 57-47 14-18 8-19 4-23-1-23-4-17-15-34-16 1-19 42-10 43 0 61 5 57 7 122-3 92 3 26 10 34 21 36 35 40 39 32 76 47 7 3 26-3 8 3 7-3 42 3 15-5-7-4-32 3-81-7-39 5 4-7 54-4 47 2-66-1-51-22-47-11-33-2-9-5-24 5-26-5-19 4-32-2-49 5 19-49-1-10 4-14-1-17 3-15 22-13 22-8 31-5 24 0 127 23 43 11 80 12 45 13 40 19 65 43 76 46 0 7-80-32 49 7 71 52-71-72-36 41 9-41 30 17 16 24-24-38-34-12-4-25 43 77-39-20-23 8 32-36 61 37-76-62 111 97-102-74 107 79-70-104 29 79-31-41-52 36 66-50 36 64-79-95 32 24 25 6 41 79-53-48-57-32 57 4-57 26 16-81 9 84 83 42-37-24-49-50-29 3 30 2 54 72-19-77-67 10 90 20-10 33 37 9-81 1 27-51-16 11-73 10 93 20-27-91 32 94-35-101-31 109 53-24 10-78 10 50-80 45 100-2-65-34 1 13 40-52-32 56 50 4-72-88 69 73-15-52 6 61-45-17-30-5-29 9 104 1-3-34-7 50-56 12 27-42 24 3-13-47-37 12 5 17 51 64 14 1 35 10-21-8-51-39-60-1 54-42-27 45 63 11 41 32-52-37 13 33 3-16-32-74-51 24-13 2-15 7-25 3-63 4-35-2-25 3-32-5-32 8-13-3-7 3-92 0-25-5-40 8-57-4-44 1-2-9-8-66 4-20-3-14 2-39 54-15 24-2 21 4 21 8 17 14 19 23 19 36 35 109 9-2 55 1 56-4 16 2 26-5 44 3 31-3 35 4 25-1 12 4 27 2 47-3-8-23 1-23-5-27 7-42 2-90 5-15-3-29 2-26-1-34-4-16 3-33-3-10 1-28-6-41 2-29-4-10 0-28-7-20 1-44 2-15-2-43-27 3-22 7-21-2-8 4-14 1-45 11-42 18-31 26-16 26-6 28-3 74-8 48-2 40 5 39 18 40 21 61 37 76 23 35 32 33 37 24 54 18 27 2 8-4 5-14 6-56 6-34-1-16 3-7-5-22 2-6-2-19-3-7-3-102-3-10-7-5-33-21-29-12-29-7-20-2-53 2-69-3-38 6-44 16-83 39-75 13-120 34-4 26 2 12-1 14 7-5 5-14 1-29-3-14 2-50-6-30 0-51-3-10 3-6-1-59 4-33 143 26 72 8 98 0 227 11 51-1 3-30 10-30-7-68 1-48-9 4-36 5-28 24-27 13-26 6-24 2-43-8-63-27-20-5-23 0-67 14-72 4-14-2-27-8-17-12-12-14-27-1-6-3-34 4 86 35 118 63 40 30 74 86 20 18 21 13 26 10 30 5 48 1 65-6 24 2 21 7-26 41-7 25 2 8-2 25 2 23-2 15 1 26-5 24 1 34-5 20-15-41-16-28-25-28-23-18-50-32-45-32-83-49-71-64-108-78-78-34-22-6-35-5 17-37 29-50 71 31 74 23 27 13 14 11 42 51 43 38 45 45 56 66 29 27 67 54 14 15 12 25 17 70 10 23 19 26 33 31-10 43 4 13-2 18-29-13-31-19-42-19-27-2-26 2-33-6 1-48-7-116 9-53 9-24 28-47 74-76 27-14 45-5-15-28-20-62-2-87-48 4-19-4-104 1-2 7-17 9-53 20-23 6-30-2-53 3-61-7-18 1-6-3-16 4-39 0-21 0-30-5-18 2-5 57 2 27-3 41 1 6 6 4 6 40 8 20 2 24-1 16 5 19-1 16 13 92 9 35 12 26 20 24 27 14 22 1 16-5 15-12 14-24 3-19 0-17-5-21-40-114-1-22 6-44 10-38 11-24 28-40 21-22 29-19 14-5 25-3 64 2 185 15 88 2-22 132 5 35-5 16 0 32 5 30-4 29-2 96 3 22-9 46 2 9-7 45 0 41-32 7-40 0-34-17-23-8-15-10-16 2-31-9-35-4 30-102 4-23-1-23-4-35-5-21-12-26-35-60-8-25 0-14 6-29 15-32 16-20 38-36 12-21 4-14 2-22-5-20-7-11-12-10-16-9-97-30-6 1-25-5-99 0-30-7-5 2-19-2-36 5-9-3-35 5 9 46 2 34 2 6-2 8 7 54-2 23 8 104-3 18 2 6-1 24-9 71 8 29-1 37-4 17 1 24 5 30 0 65-2 17 118-65 34-26 45-43 13-8 38-12 60-2 36 5 40 16 34 18 40 26 64 34 48 36-6 17 1 19 32 1-60-48 2 9 3-15 69 75-79-60 75 54-75-68 52 42-73-77 40 79-19-50 16 0-19 49 15-13 15 2-34 36-92-63 125-4-50 17 53-27 31 54-76-53 78 41-5-29-77 29 62 2-13-31-8 25-29 21 64-12-51-4 25-8-2 49 1-29 9-10-9-26 21 38-29-42 39 57 25 20-70-36 6-24 19 1-15 37 15-29 22 24-44-36 27 39-11 6-51-101 28 30-11 33-37-13 45 3 51 51-49-59 20-20-43 43 3 22 65-39-48 24 32-95-59 78 66 33-14-17 0 21-44-45 74 39-89 22 49-35-105-1 85 2 21-32-66-14 67 58-59-45 35-36 86 105-82-79 58 16-6 31-16 0-38-16 39-41 45 96-50-37-60-26 86 44-69-21 58-9-86-17 11 6 11 51 11-40 15-8-11-8 6 42 45-65-3 43-32 17-40-6-42-67 73 42-38-19 51 24-34-45 15-2-15 9 5 64 74 0-39 1-30-57-28-38 5 60-22-5 80-41-23 70 25-2-33-5 28-17 13-11-86 10-20-42 43 32 78 51-95-4 0-36 14 14 10-9 38 7 1 7-49 4 38-1 6-17 43 43-72-41-8-42 66 35-41 53-32-82-23 35 8-87 27 130 0-83-29 44 68-86-41 67 65 41-56-42 42 22-58 23 92 12-87-24-8 30-30-11-17 0-25-9-44-3-31-8-43 2-22-5-10 2 15-52 0-80 20-109-1-19-5-26-9-25-10-19-16-21-22-22-52-35-53-19-51-6-51 4-80 20 25 54 7 32-9-29-25-51-13-103 3-31-3-21 1-28-4-24 15-5 20-2 15 2 15-4 30-3 33 6 37 1 23-3 59 3 10-4 57 2 13-4 17 3 34 0 34 4 48-2 14-3 29 5 25-1 14 4 36-1 28-5 7 2 7 26 7 42 0 41 7 74-4 16 1 25-4 18-5 69 2 20-5 74 3 35 5 15 1 57 1 17 6 16-2 9-3-6-3-30-4-80 3-7-2-39-8-78 4-110-3-62 1-56 1-24 6-39 4-8-3-18-33 10-2 39 4 50 8 34 13 31 0 17 11 89-4 38 1 22 3 8-1 30-67-6-63-11-24 1-48 7-23 0-19-4-22-9-28-19-16-17-10-16-20-55-7-27-1-18 8-31 9-14 17-17 29-17 29-10 18-2 55 5 105 25 22 11 41 27 6 55-7 50 3 48-4 73-50-10-43 2-34 16-45 37-21 28-19 52-14 59-3 41 0 10 56-4 23 6 70 0 15-4 64-1-1-15 3-14-3-14 2-36-32-43-31-30-47-28-104-75-20-9-49-16-32-15-92-56-77-37-17-14-16-18-15-28-4-13 0-15 11-28 24-29 28-18 33-8 38 6 27 12 14 15 9 21 2 17-4 24-7 16-15 20-18 15-22 12-14 3-22 2-41-10-75-38-25-17 28-42 8-17 19-58 4-48 26-4 29-2 23 5 129 9 36-3 40 18 51 29 65 54 20 22 14 21 11 27 4 23-1 24-6 24-24 48-14 18-14 14-59 42-15 8-50 13-55 20-52 10-69 6-37 1-18-3-14-6-14-10-13-17-8-22-1-24 23-111 2-67-4-53-5-25-11-23-21-23-23-13 11-27 34-9 1 8 9-2 33 4 43 0 25 5 17-2 22 1 22-5 30-2 50 2 6-4 16-1 25 4 51-9 13 3 23-3 81-1 9-2 72 4-13 22-28 7-38 3-51-5-23-7-29-16-40-7-25 2-14-3-17 2-34-2-30 3-32-9-22 5-45-7-12 3-46-2-41 7-26-1-26 4-12 54 8 5 0 28 5 4-5 37 1 24-3 8 3 8-2 40 8 6 9 23 26 34 8 21 11 17 3 22 0 26 8 23 4 27 54-36 21-10 68-26 50-26 93-32 61-29 38-7 65-5 53-7 23 0-8 80 13 60-3 22 3 26-2 15 6 58 4 10-3 74-5 32 2 17-14-13-38 33 12-37-6-33-76 25 96 9-30 2 70-33 5 69-129-78 113 30-63 14 101 50-114-74 36 0-56 33 96 12-46 4 19 6-3-20 52 25-104-35 75 1-51-37 25 15-16-13-56 76 67 0 0-18-6-50-32 58 26-50 86 67-46-53-31 8-26 0-17 5-27 0-43-7-14 0-23-7-33 0 44-40 19-24 13-29 5-38-4-50-16-67-9-26-32-66-6-25-3-94-8-79 5-34 18-37 43 2 12-2 23 2 49-4 50 3 6 23-33 81-5 27-1 19 10 66 30 79-2 104 7 15-1 18 3 10 0 38-8-2 1-9-5-23 3-65-4-66 4-32-1-72 2-19 2-88 3-25 5-17 1-40 3-10-16 0-24 7-30 3-36 0-23-4-25 0-27 4-29-3-19 4-17-6-41 0-14 3-17-1-7-3-40 0-7-3-87-2-23 71-4 60 3 37 20 81 6 47 17 62 1 85-4 63-1 105 18 6 17 0 15 5 49 4 25-3 18 1 30-2 37 2 35-4 48 4 37-4 25 0 26-5 34-1 13 3-16-32-5-25-110-51-26-8-25-2-24 3-64 16-37 0-47-11-24-9-22-12-22-22-11-18-17-41-24-83-2-20 7-110-10-78-2-47 5-22 19-43 10 7-11 32-16 62-14 104 2 24 4 14 23 31 50 47 33 22 25 13 30 7 21 1 68-8 34 0 40 5 85 20 87 13-9 42 6 30-4 14 0 32-4 15-1 25 3 35 4 13-2 18-67-6-30 2-20-3-19 2-31-2-9 3-9-3-62 0-20 4-14-4-17 2-9-1-18 3-18-5-33 0-34-7-63 5-38-5-31 2 50-1 66-10 46-2 42 6 36 18 27-12 50-26 25-9 26-3 36-106 11-23 17-22 27-17 96-29 0-6-5-9-14-39 0-36-7 0-2-40-3-7 3-16-4-34 10-71-2-26 13-78-2-16-46 11-22 0-32 4-45-2-6 3-48 4-22-2-30 3-16-3 34 29 22 11 26 8 17 2 36-3 63-14 24-2 29 7 25 13-18 30-17 37-1 27-13 56-6 87 6 35-4 63-28-36-37-54-25-21-27-15-32-7-85-13-99-12-197-29-30-1 0-49 7-41-3-8 3-16 7 34 14 25 20 27 47 54 29 43 28 28 81 63 36 17 112 32 30 5 62-2 39 6 45 18 39 20-7 36 2 35-5 42 3 30-3 8-9 3-28-3-16 2-56-1-39 7-34 0-27 4-22-1-44 5-4-7-19-8-62-14-33 3-42-3-16-90 3-42 16-40 24-30 40-28 18-19 18-28 9-23 15-89-19-96-1-55 3-23 5-16 21-33 26-3 25 2 0 6 43-6 34 1 41 7 33 0 6 4 8 0 17-2 7 2 35-1 17-4 18 1 14 34-2 10 5 18 1 26-3 9 5 26-2 21 3 42-4 21 1 8-8 3 5 50 0 18-4 19 4 17 0 31-2 22 3 23-8 2-5 7-13 30-74-16-29-16-45-31-53-20-96-16-122-11-34-9-17-7-75-51-26-15-25-10 8-23-1-8 7-35-3-60 4 4 6 45-1 23 38 17 29 18 82 65 56 54 15 9 103 44 44 29 24 21 94 136 13 31 3 25 52-24 16-5 16-9-5-13 5-26-2-36 17-53-2-26 4-50-9 2 2 45 3 8 1 18 0 58-5 15-1 26 4 30-7-7 2-10-2-145-5-22 1-42-3-16 5-29-2-40 3-53-4-19 4-43-5 7 6 35-4 32 10 41-7 49 0 22 3 7 0 17-4 34 3 7 1 29-3 34 4 27 0 38-4 38 2 19-3 17-57-27-37-13-34-4-16-8-26-6-45-6-10 1-35-5-33 1-31 6-22-4-30 4-8-4-14 2-29-3-25 4-16-4-81-6-35 5-9-1 4-6-1-16 7-26 4-66 20-80 3-31-4-28-17-78-4-41 5-186-17 6 15 35 20 36 18 68 6 38 29 24 21 22 81 97 19 36 45 116 25 51 26 37 14 13 17 11 62 15 68 7 65-1 57 11 9-40 0-50 4-24-1-9 4-41-6-37 0-18 5-25-7-45 1-36-3-7-73 30-66 51-74 51-46 47-74 55-24 24-31 46-6 13-4 24-46-24 1-62 5-36 26-58 18-31 16-20 61-59 13-15 8-22 3-18 1-23-4-23-12-24-29-36-26-27-38-32-38-21-75-21-17-8-21-14-14-15-32-47-9 6 19 32 9 25 110 18 41-3 43-15 50-24 27-22 33 1 6 3 21-1 13-4 27 2 26-4 12 2 7-3 8 3 27 1 18-3 29 5 19-3 57-2 4 11 4 40-8 54 5 33-1 37 2 66-2 10 5 32-3 10 4 13-2 28 1 5-5 39 2 22 3 9-3 17 3 19-4 13-1 21 1 72-4 7 2 17-3 15 1 30-107 3-15-42-18-35-50-79-7-23-3-23 1-27 5-18 10-21 15-20 24-22 49-29 48-36 50-55-4-18-12-26-37 13-68 34-39 24-33 27-48 48-39 50-19 41-13 70-14 43-33 130-6-2-74 6 1-6 31-14 33-20 26-9 44-8 9-4 47 2 18-5 19-1 7 3 62-4 8-44-1-80 7-70-3-24-14-49-7-42 3-119-8-49-18-38-16-17-15-9-33-11-56 1-58 10-87 32-72 15-47 22-38 26-7 34 9 114-2 8 0 32 6 25-3 33 6 21-4 94-3 10 8 46-5 41 41-2 57-16 24-3 40 6 73 23 21 3 23-3 29-8 13-7 20-18 15-21 14-23 13-46 4-37-3-38-26-183 13-88 8-78 8-33 9-22 45 25 32 8 55 1 50 7 10-1-3 23-6 15 2 69-19 13-23 21-40 55-11 27-17 71-23 68-7 64-12 48-3 24 4 46 10 71 25-15 29-9 62-10 33 1-15-40-42-56-48-83-13-33-21-68-4-21-9-77-4-115 2-91-2-39-32-1-33 2-16 4 0 6-28 9-24 13-33 3-17-1-23 5-23-1-9-3-56-2-16 4-20 0-33-7-20 1-15 4-29-4 2 15-10 52 7 53-3 32 39 16 80 44 68 29 23 14 26 23 91 90 39 48 48 51 56 46 52 85 40 14 18-1 9 2-23-41-6-18 2-20-4-6-5-34-3-49-2-85 4-28 2-118 4-26-4-46 2-35 4-15-1-20 6-46-1-42-42-4-44 4-35-2-9-3-26 8-9-2-12 3-33-6-22 3-42-10-25 2 4 6 10-2 18 2 33-3 53 1 28-5 16 4 26 2 18-4 30-1 66 1-10 10-45 11-33 5-40 0-33 6-23-5-15 3-175-3 31 49 33 67 44 62 95 92 117 84 14 15 44 60 19 33-1 8-12 24-5 23-36-21-21-17-68-77-52-48-32-42-28-51-8-24-3-24 1-42 10-64 3-44-7-93-66 31-32 8-28 11-37 6-15-2-24 5-67 5-24-3-39 2 27-47-48 49 47-84 6 15-29 33 38 10-50-22 3-7-14-34 46 74 28 4-21-22 17 30-77-43 56 10-45-49 22 29-4 6 13 17-22-38 56 62-25-42-25 23 52-50-20 71-3 18 6-41-51 16 67 19-77-62 16-24 34 41-32 5 60 63-71-124 13 33-3 47 39-21-54-60 29 71 68-9-39 28 0-30-7-40-48-8 11 42 64 40 10-17-89-79 34 91 17-10-27-6 29 4 14 18-60-81 19 91-11-14 75-11-67-33 92 14-89-51 35 86-4-6-47-23 1-62 77 107-70-79 19 69 11-2-35-39 19 5-22-31 9 53 49-28-37-40-12 18 3 7 3 51 4 27 34 19 29 9 83 3 34 7 29 14 28 25 36 51 46 90 13 40 22 91 24 56 33 44 25 23 35 23 29 12 36 7 58 2-15-33 0-10-18-18-32-16-45-6-50 2-61 13-43 2-20-4-45-21-43-26-22-21-99-126-43-40-49-53-25-33 2-17-3-24 3-52 0-32-2-5 6-37-3-9 3-34 32-7 45 5 28-6 53 1 16-3 54 6 50-3 24 5 44-1 23 3 45-4 12 60 5 16 12 20 16 17 30 16 31 8 84 5-12 37 1 8-4 20 3 6 0 17-2 6-4 43 4 39-1 42 6 19 1 19 3 10-4 17 3 82-3 19 1 31-2 7 2 43-4 15-55 5-25-3-6 3-15 1-9-4-15 3-34 0-48 6-36 8-34-2-76 5-10-3-27 2-15-3 3-6 27-12-1-9-20-106-25-79-14-33-29-41-34-29-20-11-38-15-33-9 16-61-2-50 4-28-4-42 2-7-5-17-3-44-5-17 5-17 44 7 23-1 24 50 23 109 20 48 34 62 32 48 19 22 25 17 110 35 120 52 28 5 32-2 57-6 5-14 1-24 0-45 8-39-7 5-2 14-14 27-7 38-63 5-37-2-181-42-74-4-29-6-40-22-32-23-33-30-24-16-25-8-32 0-4 15-2 23-7 16 2 7-9 44 6 35-6 79 6 30-3 22 2 23-4 13 3 18-2 23 1 7 40 2 60 10 76-3 17 3 40 1 63-10 18 2 85-5 31 2 26-5 24 2 6-3 16 3 56-10 44 4 39 37-43-48-25-7 13 16-9 11 12-62-41 76 98 13-89-31 58-34-19 8-25-15-33 51 66-15-19-34 10 39-7 22-30-22-3 32 55-44-56-2 26-1-82 29 30-31 79-11 12 51 8-31-4-8-72-7 57 37-1-10 4-10 6-84 0-59-4-17 0-16 3-13 6-58-4-18 2-8-1-42-3-10-3-43 6-35 1-24-6-128-8 2-3 76-3 19-6 3-2 10 3 21-7 86 5 103 8 47-3 23 0 79-4 16 5 56-3 14 3 8-14-5-31-21-55-28-11-38-31-76-6-31 8-81 11-35 12-20 28-29 32-24 30-12 32-8-1-19 4-15-1-11-7-49 3-23-4-17 2-7-2-23 2-45 17-51-76 61 17-31 15 58-3-12-17-8 59-8 3-54-58 36 11 34-3-27 40-35-74 52 21-3 58-51-45 106 25-93 15 62-19-49 0 20-38 1 66-39-33 36-23 29-17 17-31-18-39-16-47-14-15 1-8 39-10 32-11 20-17 22-23 20-29 20-31 13-31 6-48 0-42-8-48-16-32-17-70-54-6-28-1-17-9-38 60-2 7 3 14 17 15 33 7 38-1 46-9 54-16 64-2 36 7 55 5 24 9 19 19 23 38 29 49 28 56 41 22 12 34 9 77 6 28 6 102 39 87 20-7 18-28-37 38 26-31-18-25 4 75 50-61-32-12-25 12-2-1 34 84 35-46-32-47-51 34 31-20-52 72 90-59-58-9 49-4-7-9-81 16 50-9 57 73-16-89-71 63 62 43 30-110-35 52-66-39 79 31-5-52-53 55 50-28-27 2-52 28 82-43-19 7-48 27 61-32-34 15-33-18 10 34 44-12 31-19-51 48 7-73-6 25 14-2 6 46 35-37-20 0 25 32-33-20-15-56 48 60-21-22 1-1-5-36 9-27 0-16 6-21-2-59 5-70-6-37 6-43-4-57 9-81-6-46 3-16-4-33-1-3-41 1-52 4-32 0-30-4-9 2-25 64 7 22-1 23-8 18-11 22-21 17-22 10-18 6-31-1-43-23-84-1-44 20-81 35-64 11-30 64 27 34 6 32 0 8 4 54 3 21-2 37 6 7-3 8 3 16-3 8 3 39-2 33 2-15 34-7 40-8 71 0 24 4 18-20 5-23 2-32-4-35-20-44-41-25-31-20-40-17-55-7-55-62 9-40-2-38 5-22-4-91 10 27-5 34 4 36-5 55 1 27 69 43 92 10 47-1 43-6 25-9 22-13 18-16 16-67 49-120 63-46 29-17 17-9 14-8 25 5 10 22-60 16-67 18-35 22-33 24-24 28-22 57-34 59-29 24-23 17-30 4-23-4-28-12-35-23-50-49-62-8 1-24-4-67 8-21-3-6-5-69 15-20-3 2 24-7 62 4 80-4 14-2 25 2 19 7 16 4 40 4 62-4 23 48-116 37-98 19-32 22-23 31-17 29-8 67-4 53-13 31-4 23 2 24 6 18 13 19 30 45 137 12 26 20 23 59 45 16 19 11 21 5 22 0 17-8 29-6 45 0 24 2 8-3 14 1 16-3 5-2 47 3 17-2 8-29-9-41-5-20-6-52 7-28-7-20 0-32 4-33-3 22 3 23 7 11 6 14 14 39-1 8-4 26-2 38-63 16-34 22-63 11-70 6-24 12-25 20-24-2-11 0-41 4-25 2-28-8-29 2-22-1-54 3-10-2-13 9-53-3-34-32 2-29-3-40 4-90-4-16 6-19 0-6-2-9 1-9-4-45-1-23 3-25-3-5 3-19-1-42 6-30-4-19 5-34-2-7 3-61 0-15-4-14-1-19 55 8 45 0 48 3 16 163 10 31 7 82 29 26 5 38 4 32-3 26-10 20-13 11-17 7-24 13-109 2-31-3-23-43 9-14-1-34 15-80 30-44 21-55 38-24 12-29 7-37 2-51-7-36-19 5-10 5-24 1-34 6-14 0-20 30 7 58 0 26 4 18 7 25 1 31 8 56 8 33 2 52-6 22 4 37-6 13 1 59-6 23 4 56-9 43 4 8 66-2 19 1 29 9 35-4 15 0 21-19 4-6 17-5 36 4 19-2 24-4 24 0 41-3 8-10 12-24 22-22 15-81 41-96 80-38 25-39 17-59 11-27 2-45-2-23-5-20-10-51-47-28-21-1-43 18 36 4 43-4 19-9 18-12 14-18 14 5 10 30 2 14-5 43-1 25 6 52 0 27 3 17-1 23 3 69-3 6 2 10-3 39 7 58 1-2-6-29-17-8-3-34-18-31-8-49 0-64-6-48 2-6 2-17 1-19-2-16 3-35-5-8 2-28-1-7 2-3-9 27-33 50-71 12-35 3-26-2-23-5-15-17-27-32-32-50-34 11-34 5 4 21 31 21 40 11 44 0 37 12 77-4 51 3 51-4 34 24-2 62 6-1-8-5-3-15-1-41-11-92-15-3-47-3-8 3-93-3-24 5-16-6-48 0-33 4-10-3-16 4-14-6-54 4-12 3-28-3-31 3-14-2-42 5-40-7-41 4-7 8-3 6 1 8-4 37-8 23 4 52-8 22 1 35-4 13 3 20-5 34-3 81 4 53-6 31 1 7-3 33 7 27 0 1 9 33 10 10 5 61 9 4 12-1 28-22 23-27 22-41 30-26 15-24 7-23 2-121-26-25-7-31-15-33-23-32-34-14-20-6-27-31-3-37 0-10-2-17 0-13 3-59-1 25 46 5 18 12 75-2 47 3 23 6 16 0 14 17-31 25-59 70-86 20-35 12-29 24 1 22-4 16 1 10 3 25-4 21 2 17-5 22 5 15-3 13 2 30-7 142-5-26 9-23 13-16 12-16 6 8 32 2 27-3 28-9 26-13 26-31 45-23 24-27 18-22 10-41 9-58 5-55-2-34 3-21 5-72 24-26 4-39 2-5 15-2 28-5 14 3 7 0 33 37 6 45-2 49-8 27-11 17-17 17-34 9-33 6-52 2-63 4-26 6-16 13-19 27-27 40-19 56-12 81-11 113-33 51-18-1-10-41-2-14 3-46-3-17 2-38-5-36 3-7-4-30-1-96 1-36-6-19 4-32 1-16-2-36 0-34-4-21 3-32 1-15-3-29 3-8 31 1 32-4 23 1 52 4 48-1 10 1 8-2 6 2 7-5 41 2 34-2 9-1 29-3 14 2 33-5 26 2 26 9 27-6 25 2 7-2 13 8 40-6 28 2 28-3 22 2 8 37 4 10 4 39-2 16 6 13-3 42 1 8 4 31 7 58-7 35 1 25 6 6-3 47 4 32-3 25 2-4-10-6-1-64 5-69-1 3-7 57-29 72-18 24-2 72 6 30-3 15-6 16 1 16-3-99 2-75 7-50-7-60-21-40-18-28-22-28-31-39-61-9-20-15-78 2-49 14-88 11-34 11-17 13-11 19-13 28-13 42-11 32-1 27 9 32 20 50 47 52 61 25 44 26 67 20 31 27 23 31 10-17 28-15 49-4 35 1 35-8 50 2 18-30-62-15-15-21-15-50-19-104-28-49-11-63-20-64-35-16-13-15-21-48-120-41-74-24-28-30-20-3-22 3-36 12-53-1-19 61-12 24 2 50-4 8 2 38 2 42-7 6 3 10-1 30 5 52-4 10 3 14-2 17 4 23-3 60 2 30 5 36-3 28 3 40-1 8 4 8-1-28 21 33-35 7-16-52 59 20-56-12 46-14 13 13-4-6-3 38-45 6 33-28 33 7-28 23 19 9 25-43-21 3-3 21 36-20-63 25-27-20 38-14 66 3 70-8 43 4 15-2 9 3 6-2 26 2 8-11 46-4 42 2 38-7 28 5 59-5 58 5 52-4 34-69-28-34-5-22-6-16 0-16-6-9 2-35-4-22 5-24-6-16 2-72-9-84-4-48 1-73 7 20 47 64 8 28 8 8-2 20 4 83-2 15 4 58-2 19 3 13-3 56 7 26-2 24 2 6-4 9 1 17-3 5 2 41-3 10 2 25-4 21 5 22 0-4-25-6-33-10-30-5-36-10-42-101-55-38-28-78-89-34-46-45-39-48-56-33-30-76-51-101-41 4-33 30-8 39 0 10-2 21 4 22-4 14 3 36-3 14 1 5 7 15 3 17-3 11 50-2 31-11 46-16 29-21 25-19 15-30 18-101 54-33 13 23 37 10 23 10 63 1 60 4 18-3 37 89 4 64 11 58 2 32 5 34 11 80 41 40 9 53 0 94-20 0-51-3-24 6-29-1-15-9-68 8-18 2-33-9 3 12 24 4 29-1 16 5 18-2 8 4 15-6 21 1 52-28-15-21-5-21-1-26 5-28 13-56 43-70 40-20-7 65-83 25-24 91-53 39-11 35-4 0-5-5-4 1-17-6-14-2-58 10-81-3-25 3-10 1-40-81 61-68 38-52 41-70 46-36 15-19 2-16-2-24-12-29-24-21-25-12-28-9-47 5-80-3-39-9-86-11-49-68 31-36 8-24 1-8 47-3 67 3 23-3 43 2 15 0 80 50 31 33 25 20 24 17 31 11 41 5 36-9 85 4 52 19-9 26-7 6 2 9-6 35-6-5-25 4-36 9-20 27-39 11-22 6-24 3-49-4-33-17-79-6-57-1-215-30 1-20-4-7 2-37-1-21 3-19-2 28 37 35 60 21 20 31 16 63 24 97 53 18 6 24 4 36-4 28-8 105-48-1-31 6-90-2-16 3-20-34-11-44-5-27 3-15-5-27 2-46-3-27 0-2 7-9 3-49 2-21 5 31 6 29 10 26 18 21 23 11 22 9 25 17 76 1 31-6 25-9 26-12 20-16 18-33 28-43 30-63 56-75 53-20 24-15 32-5 20-1 25 3 43 51 14 8-1 38 6 41-1 17 2 50-4 48 4 7-2 51 0 59 7 65 0-18-42-3-15-6-54 4-37-11-51 1-27 5-20-1-11 4-30-3-16 4-36 1-21-7-36 5-42-5-25 2-39-3-30 6-40 0-64-18-4-17 1-19-4-38 3-27-5-18 3-23-6-25 4-20-3-30 3-38-3 28 3 60-7 20-4 42 6 10-4 22 0 23-7 90-2 4 8 1 19 5 13 3 31 5 7 10 37 0 79-3 8 3 29-4 41 3 22-2 24-5 14 5 51-2 33-11 29-8 43-4 6-6 76 5 20-3 26 0 28-29 4-18-3-27 6-34-4-40 1-22-4-65 1 16-21 17-15 69-43 55-42 31-14 51-15 10-38-1-93-178-193-19-26-40-68-20-23-21-14-51-22-83-8-55 1-15-5-42-1-10 4-45 1-15 3 20 40 3 13 20 34 17 60 1 42-3 25 0 30 5 17-2 20 7 72-3 16-1 66-5 58 5 40-2 6 4 14-3 31 5 31 0 18 82-39 70-39 67-18 95-5 29 4 17 7 19 13 34 35 27 44 23 3 54 0-31-38 32 2-23 16 33 23-84-25-2 3 42-47 7-14 17-58-3-54 4-44-3-25 6-29-4-16-2-47 4-19-2-22 9-30 1-40-6-38 3-7 5-74-5-25 1-18-7-4-50 13-39 4-42-4-39-12-36-1-16 3-65 5-23-4-11 2-49-8-7 2-15-2-33 7-15-2-38 1-25-2-34 2-19 5-14-2-10 2 25-18 8 76-40-93-2 5 32 95-35-88-2 31 15 35 4-40 59-22-76-17 88 46-88-47 71 4-86 44 92-4-66 40 9-38 30 33-4-54-50 39-11-32 73 0-8 29-13-29-13 17-27-40 18 19 3 15-30-7 4-36 6 53 17 58 54-77-77-36 58 32-62-37 60 63-34 56 30-84-9 4 11 75-38-90 10 19-36-51 101 43-90-26 10 1-16-14 17 65 49 41-61-90 58-2-49 49 33 6-38-30 32 33 17-26-2-25-36 1 16 41-40-65 87 50-22 25-32-47 47 15-49 32-7-20-5 17 1-43 28 37-20-11-10 23 22-3 9-35-29 13 42-12-52-25 42 61-10-1-15 26-8 39-3 93 4 16 0 37-4 29 4 10 1 29-3 8 0 21-5 20 39-12 87-5 74-18 36-3 67 5 89 13 78-7 31 1 33 5 68 21-2 6 6 43-3 9 2 15-4 38 1 50-8 63 5 13 0 23-12-2-27-30-14-20-13-35-3-38 7-36 20-37 25-26 28-13-1-13 6-40-2-17 3-13-5-38 3-29-5-12 3-75-6-60 2-44-3-9 4-28-1-9-16 2-25-5-61 1-16-3-33 3-6 5-46-5-13 5-16 2-41-3-22 3-42 1-76-6-44 6-33 0-24-5-15 0 25 29 15 26 18 53 7 39-5 21-8 16-30 34-51 39-22 7-25 3 24 43 14 32 3 15 0 13 6 24-3 8 6 26 1 64-4 34 3 17-4 38 0 45 19-12 14-3 24-17 16-6 45-9 10 1 6-4 24-4 50 4 10-5 37 5 29-4 31 5 29-3 36 6 19-4 21 3 54-2 7 3 13-4 19 2 9 4 34 1-5-33 3-8 1-17-4-19 0-132-5-41 6-50-3-7 7-37-4-16 1-25 4-16-4-41 1-7-5-30 2-85 3-8-2-7-94-11-25-7-39-2-10-3-31-3-50 2-44-6-43 3-61-2 0 8 37 11 34 1 30 5 56-2 64 10 13 85-3 36-17 64-22 50-27 43-30 35-36 28-49 25-17 5-17 1-36-7-38-19-27-20-23-30-11-24-25-93-32-66-21-60 2-35-4-21 34 11 31 3 3 5 14 27 12 37 9 67-5 30-35 97-22 31-32 25 5 79-3 14 2 30-3 33 3 19-5 27 2 17-2 17 1 45-29 23 29-44 2 32 33-72 6 29-62 57 18-67 16 5-6 34 42 2-66-53 37-7 17 85-34-28 78-43-53 12-34 16 15 26 33-79-52 70-11-24 42 16 15-24-25-7 28 18 17-16-40 65-17-77-10 59-7-6 17-46 35-10-31 33 27-31-16 12 34 37-76 27 20-36-11 29 34-67-5 11-35 34-2 27 13-28 111 15-122-31 9-6 21-3 34 0 20-6 20 5 18-2 30 4 17-4 17 3 18-3 42-1 13-4 8 2 40 1-87-98-37-48-22-25-42-36-52-35-20-23-10-21-8-30 0-26 4-18-5-34 4-36 30 27 33 18 62 14 78 6 76 22 30 13 51 36 25 11 22 5 47 6 81 2 16 5 16 8 23 18-3 20 3 34-4 35 5 43 5 17 2 34-6 1 2 16-9-4 2-15-3-17 3-26-6-130 1-42 2-8-4-37 7-23-5-82 4-15-1-49-3-25 3-15-2-52-120 68-64 28-37 7-197-6-32-5-82-21-41-6-27-1 6 10 12 37 5 61 7 33 0 23 5 24-3 14 7 31-3 7 3 34-3 36 9 55-2 6 3 19-2 10 6-24 3-34 0-22-6-43-7-28-9-18-22-23 9-18 10-28 5-8 1-7 10-16 13-30 19-11 47-37 26-26 14-20 8-15 4-32-5-32-18 5-125 10 19 2 23-1 54-15 63 19 20-4 47 0 25 2 23-2 28 4 33-5 38 6 42-3 9 3 15-2 10 3 7-4 72 8 43-3 10 31 6 42-1 37 3 10-1 37 3 16-1 14 3 22-1 25 2 38-5 47 3 35 4 7-7 67 0 38 1 14 7 20-4 22 1 8-2-13-13-25 0-15-5-8-9-44 0-30-4-27 3-9-3-24 2-39-2-18 7-22 0-42-2-8-2-25 3-30-9-54 2-6-1-17 4-40-1-15-12 55-17 41-34 100-25 60-7 30-16 110-13 38-18 36-13 13-41 32-68 61-15 18-49-1-19 3-19-2-9 3-22-1-16-4-17 2 14-13 55 0 59 6 25-8 10 0 24 4 23 0 9-3 53 6 67-6 42 5 44-6 16 3 7-24 6-45 0-19 4-18-3-10 2-15-2-24 3-8-3-63 2-16-2-34 2-27 0-6-9-5-2-17-2-34 3-9 1-31-50-5-24 3-24 7-34 19-61 44-21 11-21 5-39 0-107-14-77-16-107 10-30-2-8-33 2-17-4-26 5-8-1-19 3-16-5-79 4-53 34 36 35 51 10 21 6 28 0 31-5 32-22 99-33 198 0 36 3 21 8 21 14 28 61-3 22 3 22-2 16 3 29-2 47 6 34-1 29 4 33-4 47 0 14-51 13-88 3-65-7-39-14-30-17-23-42-47-29-23-29-9-47-2-33 7-59 21-23 2-30-11-27-23-15-17-8-16-5-28 9-47 30-94 3-23-2-21-2-9-63-3-7 57 3 35-3 18 6 96-3 27 30 43 62 75 23 16 18 5 19 1 34-4 29-16 16-17 14-21 42-79 34-36 39-30 68-29 39-21 96-73 23-22 3-20-7-2-74-1-18 87-4 36 5 58 13 35 39 48 44 39-1 9-6 1-11 17-3 18-22 49-7 27-2 33 4 34 8 25 22 52 23 34 3 15-1 7-9 3-20-50-17-64-25-134-13-24-15-17-17-12-15-8-31-11-25-4-90 2-71 10-22-2-13-5-30-19-39-33-21-25-37-58-31-41-30-27-30-18 10-33 22-49 15 10 62 24 32 4-46 17-59 40-46 22 7 10 39 79 10 34 3 33 8 21-6 17-1 31 92 63 97 48 16 5 25 2 18-1 22-6 12-8 11-12 8-15 5-22 2-25-3-98 3-72-8-28-22-35-45-53-58-53-15-20-6-15-10 2-17-5-8 2-38-3-8 4-9-2-14 4-40-8-22 3-35-4 5 22 12 27 26 48 12 66 3 54-3 75 4 28-4 23 1 29-7 71 3 35 28-15 52-40 20-10 31-7 38 3 22 6 40 19 36 25 31 29 24 30 16 26 28 88 16-10 75-34 19-3 13 3 52-6-8-41-1-31-7-29-19-50-22-38-22-26-26-17-31-14-32-4-16 2-22 10-76 51-75 28-24 14-20 16-20 21-86 112-28 43-50 2-9-20-9-44 0-14 6-1-2-14 4-14-6-85 1-22-4-25 2-37-5-45 2-52-5-21 3-32-4-51 3-24-2-73-3-13 4-34 17-4 10-5 15 2 45-4 7 3 23-2 15 2 16-4 7 2 25-3 105 5 78-9 21 2 52-5 42 3 32-2 7 2 23 0 20-7 20-2 25 1-5 21 1 9-8 22-4 34-1 89-6 59 3 16-3 34 5 51-5 60 3 24-3 14 4 47 3 13-5 50 1 15-2 40 0 18 10 32-22 2-49-5-37 5-34 0-25-5-18 2-34-4-7 3-15-1-22-6-53-2-19-43-16-23-77-79-13-26-5-23 2-37 14-93-1-20-4-17-7-15-68-105-28-28-38-28-3-35 0-35 42-7 9 0 26-10 24-5 34-1 84 10 79 0 22-1 27-6 16 3 25-2 28 4 52-9-2 16-28 13-16 5-35 18-58 11-29 4-62-3-42 9-116-9-37 6-8-2-11 3-17 0 6 14 31 52 12 44-24-29-23-20 0-29 3-9-6-41 3-32 28 53-49-17 27-33-15-17 57 26-61-21 62 3-24 33-48 44 64 14-49-105-8-5 42 38-17 18-31-69-7 0 56 67-10 2 10-2-17 21-27 6 27-61-39-33 11 23-6-21 70 31-11-22-19 9 9 55-30-18 6 19-13-54 49 52 4-38-65 2 32 20 9 16-1-12-32-37 39 24 36 14 36 5 60 1 44 72 50 123 20 33 35 43 17 14 36 20 83 31 34 7 110 15-2 19 6 28 1 26-3 6 2 10-7 6-2 8 5 23-10 102-32 4-17-2-28 4-105 1-24 5-25-2-21 4-25 0-15 3-55-4 0-8-9-1-10 2-25-3-16 3-26-4-48-1-16-3-59 8-8-2-14 3 31-74 16-25 11-35 0-23 7-30 4-45-2-22 2-36 1 37 5 33 8 22 18 32 22 25 29 25 25 16 42 20 211 71 95-43 67-16 5-17-6-12-61-1-82-12-23-9-49-29-37-13-48-4-68 4-58 17-114 55-61 10 31 55 5 16 14 2 59 0 7-2 13 2 59-4 7-3 114 7 50 2 9-3-77-146-74-121-49-91-36-54-28-24-23-9-35-3-35 2-19 4 13 41 5 53-5 73 8 72 5 12-1 58-6 55 0 48-3 15 3 22 64-8 15 3 33-2 23-58 5-22 2-25-7-59-33-116-8-54-20-60-21-85-6-63-7-35-18-49-21-1-8 45-1 62-6 39 0 38-5 26 5 32-7 97 6 63-1 68 8-23 3-30-2-9 9-38 3-35-4-24 3-43-1-40-3-7 85-37 39-26 20-20 18-27 8-20 3-20-3-25-9-31-10 1-20-3-81 2-14-4-36-4-2 62 5 16 5 44-4 31 1 42-3 7-6 31 1 62 4 39-5 23-5 62 3 17-3 40 3 6-1 35 4 14-1 17-5 16-2 59 33 0 34-6 17 3 24 0 22 4 36 1 38-11 34-2 22 4 42 15 64 3 36-2 23 7 25 0-13-6-3-4-61-3-57-18-77-10-36-7-31-13-39-28-63-82-62-49-2-25 4-28-3-21 4-14-4-25 1-39-3-16 3-34 34 15 34 9 157 21 77 6 42 7 79 28 32 17 50 35 34 12 33 3 28-7 2-18-3-14 1-17-2-15-2 6 2 19-1 17 2 9-6 42 2 14-3 9-6 48 4 29-7 68 4 44-3 6 1 11-36-11-19-1-75 7-86-9-75-3-56-2-8 3-42 0-15-3-13 5-10-2-51 1-15 3-6-2 58-50 51-38 25-16 54-27 67-20 77-38 70-28 38-21 53-36 29-13-17-32-7-45-4-7-2-35-6-15-5-25 1-66-2-9 1-11-3-57 2-15-18-6-26-4-19 1-43 38-40 23-33 9-58 4-87-10-21-6-38-24-30-31-52-9-26 4-17 0 3 12 43 9 24-1 28 5 10-2 44 10 20-3 16-5 29-2 20 3 19-1 12 3 48 0-12 29-17 28-55 67-24 24-28 26-27 19-50 30-48 24-23 14-20 18-19 23-9 19-31 95 3 21 1 29 6 23 1 23 3 6-3 24-1 52 3 6 24-27 1-15 12 12-77 54 16-20 44 4 10 5 23-1 5 3 17 2 33-5 58 15 27-2 9 3 30 1 25-4 24 3 17-6 16 4 26-2 37 3-2-6-46-26-56-24-71-118-20-29-93-104-48-47-37-46-19-48-4-24 2-7-1-30-3-26 3-33-3-6 0-39 4-35 30 16 71 3 42 5 24-3 44 0 19 4 15-3 45 4 46-7 16 3 32-1 46 5 40-4 6-3 17 59 23 116 13 52 24 49 37 45 7 19 4 26 0 42 5 23-2 25 2 41 4 7-1 17-2-6 3-36-9 3-1 39 4 34-6 49-75-41 53 52-4-38-13-58-12 77 14 36-31-34 80-27-54 18 11 17-27 7-6-27 10 7 18 4-34 15 109 24-85-38-9-16 16 12 29 13-13 8 50 18-45-38 37 37-60-36-45 10-1-18 93 36 24 6-28-47 5 24-68-82 55 37-20-3 44 56-60-4 83 25-93-32 32-58-43 55-18 7 25-78 19 32 75 75-97-48-16 1 50-39-16-1-18 42 52-22 30 62-2-17-42-29 56 48-107-104 87 81-73-16 9 37-17 0 47-86-15 59 20-28-2-2-72-11-46-2-20 3-90-166-26-33-10-8-21-9-31-10-58-11-30-13-16-11-24-22-24-35-6-16-5-24-2-21 4-27 26-69 22-35 50-44 18-26 21-3 53-1 10-3 29 0-4 8-11 2-51-2-16 5-71-8-13-5-39 1-46 8-25-2-33 2-21-3-8-17-6-2 38 77-31-16 31-26 16 10-37-30 29 55-25-59-36 57 21-66 59 58-59-30 48 10-68-63 8 19 47 43-56 3 32-14-33-54 50 56 15 28-57-74 85 60-45 5-35-63 74 34-18 45-64-84 58 48-52 15 2-5 49-8-16 41-9 47-7 17 0 37-10 56 1 57-4 26 4 35-1 10 129 41 51 6 49-2 19-5 31-15 123-85 31-13 49-8 39 2 25 8 52 32 3 10 2 22-125 7-44-10-49-25-26-16-17-17-16-28-30-68-23-27-27-20-20-7-107-5-21-5-23-9-25-20-26-36-10-20-5-17-1-7 6-10 6 5 26 5 35-2 38 6 10-3 50 12 30-5 37 2 14-3 26 3 11-1 6 2 30 3 26-3 13 3 22-5 28 2 42-3-21 102-9 26-30 57-19 54-10 43 0 36 12 34 15 23 79 94 42 40 21 27 17 28 9 34 0 13-27 5-24-3-26 5-62-5-68 3-8 3-35 2-14-2-53 1-22-4-22 2-13-3-75 3-26-4-16 2 19-41 16-62 4-32-5-29-16-22-23-13-30-8-42-5 9-22 10-51 2-38-5-28 3-9 3-47 0-59 7-46 67 40 66 29 28 9 40 6 96-1 59 7 21-3 28-9 117-58 50-20 5-48-3-39-12 23-1 7-37 26-45 19-41 8-93-12-39 5-35 13-65 32-95 34-139 43 4 25 6-23 20-139 39-97 25-1 72 11 40 0 40 4 21-3 30 2 23-7 67 6 17-4 24 7 170-7 2 23 14 51 4 56-5 24 2 7-2 49 5 51-4 15 5 50 0 32 6 43-5 27-1 58-8 24 4 42-3 16 4 34-4 24-29 6-42 1-66 6-19-3-32 4-23-3-19 2-9-1-6-6-10 0-76 2-1-7-54-25-27 31-29-17-46-20-9-6-19-8-52-4-18-4-19 1 29-49-55 31 64 60-53-12-14-26 14-5 11 4 71-28-67 62-29-3 4 31 6 3 3-16 39-97 67 25-57 22 12 49-45-12 19-16-48-36 75-2-28-15-18 95-2-27-23 12 61-32 4-18-3 65 11-69-28 63-18-33 50-25-47-4 25-9-59 44 5-11 54 17-25 20 83-55-88 38-7-6 25-6-34 32 14 14 10-65 29-36-33-16-25 117 15-41 23-21-19 42-33 17 10-7 89-2-93-46 51-27-23 50 19-35-1 36 40 15-24-52 14 33-76 1 67-16 9-51-59 84 90-12-84-13-25 41 22-49 16 45-5-83-31 77 30-50-30 53-9 5 73-52-2 27-62-18 27-12 74-48-54 77 18-26-35 23-26-25 45 1 22 38-17-2 1 3-25-3-23 2 88-3-75-7 11-3 10-55-21 34 47 11 10-25-2 49-31-96-10 55-21-12 29-41 29 61-37 14 24 39 12-108-9 51-2-7 21 40-27-32-27 17-17 13 37-8-46 6 7 14 61-51-28-78-3-44 3-14-2-17 4-37-5-16 3-8-4-14-2-33 4-18 2-19-2-52 6-52-4-30 1-22-3-8 6-22-1-33 4-19-3-41 65-19 28 3 10-2 24 2 16 5 26 3 37-1 32-4 18 5 31-2 9-3 25 3 57-2 16 3 8-3 32 2 33-7 21 1 7 3 19-7 1 9 61 25 2 34 6 17 1 17-2 19 3 16-1 41 4 17-6 69 2 9-3 16-1 75-3 13-1 62 4 31-8 51 3 13-3 18-1 10 5 9-3 41 4 22-19-66 18 34-46-13 24 38 31-29-31 25 4 2 11-21 37 47-68-68 44 14 42 68-92-67-6 38 20-1 61 19-92 8-18-65 84 25-27-10 0-28-8 21 26-37-23 58 27-58-30-6-50 76 55-101-24 125-33-68 55-11 6 44-95-52 75 87 25-106-4 66 56 42 0-13-20 1-16-3-8 2-26-3-36 3-9-2-7-6-18-3-16 3-35-1-22 2-43-3-7 3-14 1-19 0-10-4-41 2-57-2-60 10-68 2-23-3-42 6-33-6-7-84 3-34-2-37 8-44-1-10 81-67 16-8 29-10 33-4 23 1 46 10 55 19 43 5 32-3 46-9 20-7 21-13 15-14 13-19 15-29 10-32 1-18-3-38-11-50-4-27 2-23 6-16 20-29 18-16 22-12 38-14 12 50-1 23 5 25-3 24 1 59-6 20 3 33-2 19-8 1 3 42-2 6 0 34 4 7 1 10-5 41 3 7-2 16 5 112-3 7 3 18-3 59 39 29-63-66-50 33 23-34 5 12 11-10-41-19 84 23 3-28-24 49 22-43-5 15-44 23 48-42 43 96-23-12-27-74-35 6-35 60 40-68-4 36-40-21-22-7-61-8-26 3-19-2 13-51 20-55 29-59 7-31-1-32-9-51-9-22-23-44-17-23-19-19-26-19-18-7-37-2-50 10-34-1-32-7-40-21-44-30-65-53-34-31 9-17 8-4 34-4 11 22 7 26-1 24-6 31-7 21-18 36-49 76-2 41 6 21-1 15 2 8-2 17 2 25-6 17-3 33 4 17-1 9 4 38-2 7 3 9-1 39-4 22 2 39-5 34 17-11 53-12 17 3 42-1 42 8 15-2 14 4 30-4 42 3 31-4-14-161 9-148-1-25-9-55-6-16-13-22-22-25-26-19-48-16-44-6-41 5-33 12-53 34-7 6 1 6 34 67 49-1 33-7 30-16 20-22 12-28 3-29-2-24-17-59-14-27-22-32-15 4-10 8-16 3-48 20-19 2 17 53 5 28-2 17 6 110-3 10 0 33 3 14-4 26 7 32 0 24 54 16 30 12 58 33 36 26 19 19 52 71 14 34 6 34 6 3 64 3 17 4 109-6 40 8 13-2 44 5-21-39-10-50-1-75-25 3-18 6-68 31-76 23-76 30-22 6-25 2-54-7-75-17-36-11-34-17-38-34-10-11-2-10 6-76-4-55-3-12 2-37-4-28 8-80-4-25 5-28-3-49 8-59-3-17 15 32 3-6-32-30 47 36-43-27 40 17-3-17 10 25-48-44 25 33-7-13 9 18-10 11 24 17-22-33 6-7 9 10-39-45 45 68-56-77-5 0 13 54 24-3 37 6-31-12-27-53 15 60 63-52-79 78-20-100 16 33 6-4 18 49-16-38-16-28 19 49-12 12 22-13 39 8-65-53-3 58 24-30 62 36-82-51 49 112-57-74 34 19 18 1-5 37 12-25-6-8-34-9-9 56 49-101 6 49-55-23-13-57 12 49 23-8 28-6 38-5 68-3 18 4 42 2 26 4 48-2-3 9-8-4-15-3-18 1-9-3-47-5-16 4-61 3 30 6 58 0 50 6 49-4 64 10 15-2 52 1 17 5 24-3 40 5 32-2 7 3 52-4-10 24-11 69-4 48 3 23-3 15-1 31-64-9-22-10-17-12-107-139-50-53-50-4-22 4-33-3-25 1-32-4-77-2-25-7-36 1-5 50 5 34-3 29 2 43-2 27 3 16 5 78-2 7 49 21 36 5 44-4 111-22 22-9 17-14 12-20 5-33-2-18-21-71-4-42 2-13 9-19 22-22 21-9 13 2 52-6 37 1 5-2 23 3 12-2 29 1-40 40-27 38-12 29-2 33 5 21 8 20 58 94 50 112 10 44 4 86-16 106-9-1-37-21-22-8-8 1-22-6-30 2-19-4-32 1-8-4-27 0-51 2-16-3-8 2-25-2-14 2-6-3-14 2-46-6-17-4-7 2-22-1-9 3-23 2-56 1-7-2-10-98 2-40-4-16-1-27 1-99-5-15 4-9-1-56 4-10 5 4-7 25 1 10-3 9 3 7-5 23 4 34-5 23 3 25-2 42 2 7-2 24 3 23 4-5 7-44 0-38 7-67 3-9 0-25 6-42 23 11 40 25 41 33 24 27 18 28 14 39 8 44 8 139-3 34-6 26-72-30-69-6-12 5-32 2-11-47-4-45 4-46-1-16 5-23-2-21 2-10-1-49 3-30-10-53 2-9-4-23 4-14-3-29 58 36 51 50 19 25 19 34 19 48 4 32-6 40-41 67-20 53-2 18 3 43 118-60 74-20 26-19 23-32 59-130 23-30 26-20 20-6 26-1 60 0 29 5 21 10 3 6 7 45-2 46 1 36-9 63 4 21 0 42-31-35-35-54-14-45-6-56 6-97-1-60 3-24 10-30 25-39 20-18 25-16 0-64 3-33-7-25-39 8-30 5-38 0-42 9-16-3-15 3-24-2 4 52 6 28 16 33 19 23 46 41 29 19 23 9 19 5 39-1 10-1-6-43 4-23-3-19 4-34-3-32-4-6 9-25-4-48-18 11-37 13-23 6-19 1-41-6-35-12-30-15-49 24-31 55-11 35-1 42 26 89 6 52-6 30-30 86-20 103-11 84-8 34-57-32-22-41-22-30-75-52-83-66 4-9 25-14 32-14 30-8 29-2 22 1 44 14 22 12 26 19 39 40 74 112 9 28 2 24 21-3 42 6 6-2 7 2 38-1 5-49 25-75 4-34-9-51-35-109-15-58-14-81-4-74-7-29-26-66-31 5-100 2 4 9 26-10 6 2 59-8 14 4 17 0-27 58-47 68-12 22-32 121-22 46-24 65-21 84-11 21-18 20-36 24-73 23-64 15 16 41 2 19-21-5-8-7 64 3-85-6 20 1 29-7-18-9 21 3 4 42-11-9-16-80 4 30 30 44-4-43-13 45-5-5 4-7-19-27 20-4-47 66 16-10 26-9 49-5 19 0 17 3 20-2 17 4 17-4 18 3 100 0 13-3 30 1 45-4 115 7 24-2 46 3 8-3 37 1 4-8 5-27-4-18 2-18-3-26 4-63-5-54 4-23-2-9 2-17-4-30 0-23-43 18-66 18-33 13-81 44-45 29-56 27-28 23-16 23-12 30-2 34 15 53 84-35 51-11 34-1 39-9 18 5 53-1 44-6 35 2 7 3-54-3 7 47 16-35 36 31-25-17 10 31 28-26-22-41-7 78-71 15 33-31 12-18 59 24-10-23 14 42-66-28 60 11-13 4-16-41-55 20 60 17 26 4-10-44 6 45-65-53 22 71 0-45 80 54-76-37-10-67-23 91 63-25-36-15 15 13-13-14-5 2 21 3-37 22 54-7 35 22-65-49 9 38-24-17 76 23-38-55 4 27-53-33 7-2 14 2-11-13 28 23 7-28-8 46-51 31 76-16-35-61-4-31 2-6-4-17-4-51 1-5-4-23 2-8 0-27 3-13 0-22-5-35 3-19-4-12 3-8-1-27 4-24-4-39 2-31-58 11-35 17-56 49-46 52-24 17-29 9-89 5-51 14-48 17-29 14-54 45-36 42 12 21 8 23 9 83 0 43 25-102-78 103 38-33 28 35-26-45-4-22-6 65-15 22 21-6-28-7 26-56-32 41 50-13-59-45 41 53 34-24-49 10 6-27 62-14-86 65 31-40-25 9 66-3-59 45-10 3 30-14 50-11 66 7 13-2 6 4 26 4 15-2 27 3 23 6 55 2 44-4 19 5 66-2 26 2 47-6 34 0 17-3 33 3 9-2 8-67-6-30 3-25-3-18-1-62 3-16-23 11-23 5-102-11-84-4-40 4-33 7-75 35-73 23-30 15-14 14-13 22-7 22 0 24 4 17 12 25 35-3 17 3 30 1 26-3 16 3 51-7 21 1 19 6 49-6 19 3 88 6 67 0 30 8 17 1 18-2-28-59-21 23 20-10 2-7-11 61 9-22-12-53-33 20 28 64 17-78-32 30 68-44-57 37 93 62-48-34-69-4 35 19-32-43 62-9-46 5 53 21 25-77-74 49 17 18 33-15-11-40 29 96-49-48 17-24 7-40-1-25 5-32 0-36 2-7-3-35 3-40-109 7-31 9-34 20-65 54-106 62-33 13-23 3-25 0-97-18-49-5-31 0 11 24 9 40-3 61 15-2 9-43 16-40 23-32 21-16 21-8 25-6 83-4 33-7 110-39 39-22 16-16 47-63 21-36 28-62 15-21 25-23 36-11 8-43 2-84 8-33-1-13-33 0-35 31-66 69-35 44-13 20-30 56-16 21-15 11-28 7-25-3-21-9-55-33-107-52-66-20-64-14 0-36 4-10-1-6 2-17-2-53 3-6 21 7 37 23 50 12 17-2 34 2 35-6 58 6 24-4-27 77-10 55-1 16 4 22 19 36 17 21 18 15 65 35 76 22 57 10 23-3 67-20 4-26-1-17-99 38-66 14-25 2-129-25-22-7-22-12-43-38-33-34-22-25-12-20-8-34 3-71-8-70-39 12 60 32 43 8 39-6 47-15 20-13 20-26 42 22 18 6 34-2 65 7 6-3 36-3 23 4 70-1 2 22 5 13-3 26 7 61-2 19 3 39-2 7 5 32-3 15 2 24-2 7 10 58 4 8 5 48-4 22-1 32-3-17 0-46-8-5-3-33 5-47-3-29 2-70-4-17 4-22-2-15 3-25-2-10 7-32-4-63 7-25-16 3-23 39-5 19-1 15-8 27 2 27-4 13-2 41 3 16-2 25 3 25-4 31-8-44-15-44-35-66-32-46-29-27-36-17-25-4-36 3-43 12-143 59-156 56 1 65 5 51-3 62 4 16-4 30 55 14 56 8 50 3 37-8 36-17 66-47 21-22 23-44 6-31 3-73 15-71 1-105-38 5-14-1-7-3-17 1-9-4-75-4-20-4-35 4-14-4 3 8 43-3 29 5 32-1 27 5 25-6 36-1 31-6 51 2 26-3 32 3 20-2 36 5 9-2 14 2 25-4 6 0-6 35 3 25-2 15 1 32-3 22 3 31-4 36-62-10-91-41-88-22-29-10-26-15-56-43-55-48-15 3-18-8-142 10 22 47 11 49-1 27 82-16 23-7 27-14 67-46 40-16 52-17 62-1 37-6 10 1 8 32 3 41-11 122-16 75-5 59-7 25-15 25-27 21-68 27-37 12-50 7-33 12-32 19-48 35-33 19-43 17-30 9 9 26 3 39 22-4 28 5 32-1 29 5 46 4 8-3-6-56-15-34-31-48-65-73-11-19-9-22-2-18 2-23 46-165 5-26 2-37-8-36-9-24-12-20-15-18-35-7 12 15 13 32 9 14 72 26 127 38 26 14 36 25 35 33 13 19 9 28 12 97 34 129 6 39-8 32-18 41-17 25-25 23-58 3-16-3-15 2-52-6-38 2-16-2-36 3-25-4-25 2-7-3-9 2-18-5-7 4-7-2-8-3 48-65 5 27-36 48 16-14-22-2-18-22 53-27-39 24 37 23-39 28 31-32 1-48-16 51 25 6-11 14-40-13-25 27 30-16-14 6 30-19-27 15 21-13 2-99-37 130 63-22-28-50-14-60-1-64 2-19-8-35 3-16-2-14 11-74-4-18-4-52 2-35-2-33 2-18-3-57-4-26 0-17 3-8-2-25 15 9 57 17 35 3 6-3 24 6 34-1 29 2 37-4 47 7 8-5 24-1 13 3 28-2 9 3 21-2 24 8 15-3 39 4 19-3 8 44 2 24-4 29-8 22-19 33-54 67-48 69-12 26-12 35-20 100-5 54 2 27 5 25 19 36 28-15-16-43 1-24 13-45 27-56 19-29 56-59 36-43 64-123 41-54-18-32-14-40-4-23 0-44 10 50-6-13-14 10 13-44 12 57-19-53 34 8 8-52-53 82 52-77-22 30-22 3 1 49 43-78-58 44 74-70-65 31 31 9 20-25-20 78 7-52-11 42 9-7-5 21 24-86-51 76 30-40-4 48-31-22-44-11 30 77 2 26-5 28-14 49-34 78-23 34-24 26-24 19-19 9-39 9-34-1-58-15-46-6-41-1-28 6-30 15-34 26-41 59-38 42 21 46 7 9 21 41 11 32 23-5 26 2 34-5 47 4 16-5 17 0 44 1 9 3 72-5 13 2 14-3 24 2 15-2 17 4 44-4 31 2 6-3 34 3 40-2 3-6 2-29-95 11-99 20-50 17-27 3-60-5-23-8-22-1-24 4-6 4-27 2-15 4-63-7-6 2-39-7-36 3 11-24 5-88 7-31-1-77 3-14-4-6 4-10-6-43 3-19 1-59-5-21-2-43 5-49-8-60-4-68 41 14 42-2 37 4 34-4 18 2 14-2 27 4 6-3 42-1 20 4 51-2 11 4 34-2 7 2 7-2 6 3 38 3 58-5 16-3 16 2 7-2 19 8 26 0-5 5-12-14 27-21-13 34-3 25 3 28-4 15-34 22-18 6-26 2-32-3-38-11-52-22-46-24-25-20-42-59-77-4-22 2-60-5-37 0-51 8-16-1 0 14-6 19 0 26-7 18 0 89 2 17-7 31 1 29-7 55 0 70 6 44-1 24 4 32 0 86 5 23 1 9-6 20 4 17-2 6 8-4 52-9 16 2 32-3 8 3 78 5 84-3 36-4 13 4 28-4 67 2 46-4 22 4 69 1-49-38-45-41-39-39-58-49-35-43-27-40-17-35-14-39-21-81-20-46-19-28-15-14-26-13-75-10-31-13-13-10-16-19-12-22-9-26-10 0-26 23 24-32-27-39 57 103-34-84-24-12 65 86-54-19 24 36-27-106-4 72 52-18-44-15 23-3 7 41 21-23 13 22 13 37 6 52 1 39 7 39-2 36 5 37-3 33-6 24 4 19-3 17 5 55-2 28 26-17 31-13 38-6 57-4 48-14 33-20 39-37 80-63 23-11 63-22 90-38 5-24-3-7 0-34-7-47 4-15-2-41 6-21-1-20-39 1-47-6-40 5-4 4-23 5-41 1 0 39 2 19 6 15 11 15 12 11 14 7 65 16 33 12 28 20 20 24-2 51 4 37-4 42 1 47 2 6-1 30 7 39-4 33 2 24-5 47 0 57-4 15 1 10-45-13-74-6-18 4-32-4-33 2-17-2-23 3-32-1-49 5-36-3 3-52 18-90 8-56 9-95 26-179 3-82 10-58 58 25 20 2 10 5 34 3 41-1 10-2 29 2 8-3 35 8 35 0 4 22-7 46 3 30-1 25 1 43-2 7 6 29-6 53-80 6-24-2-30-10-55-25-93-17-61-16-26 0-23 4-41 19-38 25-68 58-31 31-22 30-4 59 1 76-3 41 2 36-3 18 25-17 10-3 48-25 62-17 84-1 23-4 80 0 7 2 38-4 25 4 18-1 32-5 30 0 8-3 10 3 34-3 20 3 46-4 1-8-82 3-70 16-81 13-106 8-197 37-24-13-31-8-3-8-7-51 2-23-5-18 3-33-6-13 5-19-9-22 6-34-2-20 1-26 8 4-5 45 6 30-2 46 8 66-2 57-6 31 4 10 37-18 61-24 52-7 19 4 24-1 12-53 24-44 27-24 23-11 17-4 33-2 39 6 22 9 17 13 18 25 29 72 35 69 42-25 25-8 34-5 9-63 0-26-7-30 4-36-2-53-3-23 0-16 3-7-3-15 2-21-5-8-1-27-26 21-28 39-9 23-16 57-6 34 3 26 17 59 28 114 26-3 14-5-3-15 1-37-9-24 1-19-3-25 5-13-4-24 3-40-3-14 2-16-4-25 2-32 6-36-3-14 2-20-3-16-138-30-41 0-91 15-30 1-98-6-22-5-27-12-29-16-55-36-46-19 18-64 0-88 32 1 1 49-8 32-22 48-31 52 6 13 0 20 12 73 0 8 54-37 22-21 12-19 6-14 7-43-3-36-11-27-17-21-69-67 1-10 54-7 23 6 40 0 16 3 17-2 55 9 23 0 8 3 13-3 37 8 66 1 17 2 8 4 31-6 40 4 27-4 24 2-74 49-85 78-14 15-19 39-13 49-9 21-36 63-30 31-19 12-36 16-36 8-53 0-55-5-41-7 5-17 210-45 27-9 14-9 30-23 17-19 36-61 72-93 33-62 39-53 27-6 34 2 6-2 48 3-14 25-3 15-2 21 2 8-3 16 2 18-3 6 1 28-4 26 3 25-2 27 4 24-5 53 4 36-4 33-2 73 5 41-2 16 0 46 3 16-2 22 4 16-3 16 5 22-56-35-38 0-16-3-8 1-40-7-33-2-49 1-28 4-29-2-15 2-17-3-6-3-18 3 19-71 62-165 18-29 65-79 29-59 27-119 1-23-6-37-80-7-8 3-29-1-71 5-59-8-69 0-15-3-9 3-16-2-26 2-31 9-20-3 2 22-5 16 2 5-2 29-3 7 2 9-3 24 4 24-4 18 5 13-13 71 8 87-4 24 2 27-6 18-1 33-3 25-2 46 3 61-2 7 3 17-3 45 25-12 20-5 7 2 15-40 41-153 7-19 14-22 18-20 30-20 59-25 21-12 26-19 30-28 24-28 19-32 8-24 4-29-3-39-8-44-10-26-21-36-30-2-16 3-32-2-16 3-42-6-12 4-19 0-38-5-35 5-46-1-11-3-6 2 6 43 0 48 6 23-2 82-8 42 2 9 20-62 6-52-3-45-13-83-19 0-2 15 5 24-4 16 6 50-2 14 2 7 1 26-3 19 3 62 5 18-5 29-2 39 4 52-4 34 2 32-5 7-2 31 4 22 52-19 33-17 40-25 22-23 45-66 16-29 13-43 14-71-4-47-26-98-2-32 3-30 36 0-12 14-30 23-109 68-59 65-36 44 1 19-2 7 3 59-5 29 1 34 3 12-1 17-6 20 3 26-2 25 5 69-1 28 3 8 0 57 29-10-21-26 47 67-26-39-31-21 16 15 18 26-11 1-6-36 22 2-33-47 60 28-30 35-25-11-24 20 34-10-38 1 33-64-33 82-7-40 32-19-18 4 11 27 12-14-2 32 7-11-5-21 23 13 22 6 71-56 85-58 66-71 28-23 26-14 54-22 80-30 30-18 18-15 47-54 35-24-2-16-24 18-17 19-22 32-16 31-8 41 0 71-31 112-5 43 5 49 34-21 34-15 43-4-20-37-7-22-9-55 3-16-3-24 4-14-2-10 5-58-4-38 4-25-2-58 9-76-5-46 1-25-5-21 0-53-43 26-15 4-16-2-61 7-23 1-10-3-26 4-96 3-21-5-63 1-26-3-17 0-26 5-9-1-18 4-45-4-19 2-18 4-12 58 1 11-4 24 4 10-2 14 4 28 0 26-5 16 2 8-3 20 0 32 3 31-8 82 4 36-3 88 4 21-9 59 0 8 47-61-3 25-12 48-28-27-2 23 43 6-51-36 25-16 60 39-3-39-20-10 7 16-30-30 9 13-45 14 45 64-26-27 27-28-36 28 35-46 8 30-45 31 88-31-71 8-15 4 35-22 67-5-53 58-19-61-32 42 99-79-3 85-35-16-4-55-37-1 22 85-60 1 50-22 26-5-67-46 14 34 6-20 25-47 34 12 51-1 33 6 36-3 31 4 42-8 36 1 61-5 16 2 57-2 53-6 15 3 29-4 72 1-11-49-3-27 3-17-12-31 3-42-3-10 5-17-6-26 4-52-2-18-4-9 7-58-30-16-39-26-63-73-19-18-60-45-18-9-8-2-30 15-29 6-14 7-34-3-52 1-22-5-23-1-17 2 36 67 23 62 23 33 16 16 26 18 132 58 21 20 13 28 35 99 13 49 22 63 14 55-1 31-19 1-25 5-21-1-10 3-16-2-48 7-19-3-22 4-44 2-48-6 36-52 23-45 36-56 14-30 8-37-2-80 2-20 6-21 15-27 31-35 35-32 51-36 28-29 74-110 15-31 7 2-18 34-1 48-7 34-1 51 2 6-2 9 2 15-4 13 3 11-61 10-22 0-28-5-87-28-97-56-23-10-26-6-39 5-46 15-39 24-29 29-50 64-15 15-4 33-8 24 8 2 6 35-2 63-8 65 2 15-3 26 2 8 89 0 52 3 24-3 20-9 20-21 13-28 5-25 10-117 17-94 13-39 9-45 17-62 2-25-3-19-9-22-22-33-35 1-42-6-51 0-46 11-35 0-13-2-10 4-16 0 3 9 0 38 10 41 0 66-4 5-1 13 2 23-7 38 4 59 3 7 1 18 0 44 4 6-1 92-2 16 5 28-4 7-1 13 4 29 2 41-5 22 59-26 34-4 8 2 15-5 29 2 68-9 10 2 26 1 45-5 9-4 27 4 49-6 23 3 28-1-12-35-3-28 7-75 11-78-2-72 16-79 15-45 13-19 14-10 10-3 26-2 23 9 19 19 11 30 5 28-9 0 6-34 0-40 5-16-5-68 5-22-1-33-22 9-18 13-71 7-16 4-41-6-48 5-25-4-7 3-33 3-17-4-32 1-18 3-6 4-47-6-57 2-27 5-16-2-17 5-23-3-36 3-23-1 4 40 14 35 7 93-5 29 0 27 5 26-2 9 3 49-4 52 4 74-5 53 2 7-6 40 3 16-2 27 23-11 44-29 58-22 30-15 30-21 15-15 22-41 11-33 7-40 0-59 7-31 15-29 36-58 24-27 42-27 44-16 36-7 101-4 33-5-2-129-21 6-5-3 34-24-48 49 23-43 17 8 12-3-77 19 67-52 15-10-35 81 3-16 26 32-40-33 23-10-14-8 4-22-4 51-12 45-2-45 41-60-25 102-9-46 1 50 29-95-34 36 11-8 8-30-35 84 33-28-4 48-22-60-20 6 73 4-5-62-32 47-8-29-15 7-6 7-34 16-7-1-25 6-23 0-11-2-16 4-90 4-34-6-6-4-52 1-29 1-33 5-16-1-51 3-17-1-22 6-58-1-10-3-8 1 46 20-61-72-9-8 40 46-30-31 38 73 29-25-56-43-8-11 2 76 73-69-23 54-31-37-13 12 74 8-84 22 52-66-33 59 41 34-55-89-7 70-7-15 51-38 18 28-29-4 9 34-15-76-23 11-1 56 21 1 20-7-17-30 6 8 18 42 5 20 4 34-1 57 2 9 0 15-4 6 4 25-2 17-4 6 7 33 0 17 3 16-1 34 57 189 8 43-2 34-15 2-23-1 9-67 1-45-5-28-31-81-4-25 0-24 7-35 15-29 27-19 14-5 16-3 24 7 28 22 24 33 13 36 3 30-14 123 4 93 4 35 25-6 33 7 41-6 23 7 15 0 133-11 22 3 29-3 7 4 28-5 25 2-62 2 13-5-20-76 76 74-61-59 51 20-34 29 22-52-3 72-41-35 37-74-55 5-24-2-28-13-18-17-12-24-14-45-20-44-64-95-34-71-24-31-28-20-35-14-101-19-45-3-31 4-26 8-2 93 3 39-5 31 3 23-3 15 3 25-5 27 2 56-4 16 2 25-3 33 5 25-1 72 18-8 24-3 54-7 13 2 36-3 44 5 33 11 103-51 41-9 42 0 24-4 44 7 17-2 14 2 13-4 25 3 26-3 17 2 0-27-4-20 6-51-1-40 6-24 0-49 5-25-1-21-117-14-43-12-22-14-15-15-13-20-8-22-4-27 1-24 3-21 9-27 10-17 13-14 26-16 30-5 26 2 15 4 30 13 52 36-2 22 3 43-4 22 4 23-1 14 7 93 9 49-15-1-13-17-5-10-6-29-6-13-1-14 3-16-9-64 1-11-4-13-1-91-3-23 4-71-26-6-35 25-77 36-50 21-81 28-44 10-72 3-20 4-22 10-17 12-39 38-20 17-31 13-31 5 25 44 9 32 79-43 143-47 62-12 82 1 23 5 20 9 73 58 21 14 29 13 33 10 3 8 3 30 4 18 2 15-2 20 2 19-4 18 5 55-2 26 3 14-1 33 2 6 2 58-15-3-27 4-44-2-16 2-3 5-33-4-28-11-71-5-49 3-24-2-6 4-9-2-22 4-16-3-33 3 12-27 19-25 22-20 57-43 26-15 26-9 24-6 28-1 47 5 73 15 23-1 37-5-2-5-10 0 3 38 4 9 4 31-4 14 5 16 2 33-14-1-4-20-1-38 4-15 1-33-5-34 3-28-5-19-29-27-113-84-64-37-25-9-12-1-34 7-21 10-14 10-32 40-29 53-24 64-20 77 1 38 17 46 50-28 22-4 11 0 9-7 36 0 25-4 54 11 18-3 36 1 32-4 21-90 10-62 31-112 2-29-7-59-20-112-52-123-88 0-46 8-50-1-43-8-29 3-26 9-53 3-10-3-18 2-21 31-9 20-21 96-12 37-30 70-13 50 31 73 12 37-2 56 5 22-2 32 2 32-2 30 4 14 0 17 6 4 36 6 6-3 24 2 37-2 9 2 132 6 17 5 21 1 12-2-2-6-7-1 5-8 16-2 14-6 15 4 26 0 105-9-82-96-144-148-34-55-22-62-16-24-19-13-29-5-14 3-25 9-24 19-28 41-34 63-5 19-2 31 16 106 0 43-3 30-10 55-43 3 30-49 35-45 23-24 20-15 58-15 137-8 21 2 27 10 56 29 20 14 16 19 15 23 16 30 10 30 45-27 59-14 7 24-23 11 69 27-20-72-111-27 0 93 31-48 7-17 24-36 6-28-1-8 10-36 0-19 7-51-4-8 1-34-3-19 5-33-4-33 4-17-4-15 2-47 2-23 5-13-3-76 6-65 0-14-3-9-67 36-41 8-40 18-36 25-53 51-63 52-35 22-31 13-24 5-25 0-87-31-103-16 46-93 8-36 3-47 62-13 58-4 40 1 4 6 8-2 16 5 28-1 13-5 37 0 62 4 16 5 57-5 39 4-21 36-44 58-43 96-18 50-36 64-15 44 3 42 12 48 37 91 18 28 34 33 52 36 24-2 15 4 28-2 14 6 23 1 17-5 6-20 9-45 0-16-5-13 1-39-6-59-16 5-24 2-21-4-18-7-78-46-130-60-50-28-46-34-22-12-40-10-30 3-48 20-73 47 28 55 17 49 102 30 43 5 23-4 24-8 20-10 27-18 25-27 11-23 6-26 3-37-4-23-13-28-17-18-23-16-36-9-35 2-69 18-53 25-83 65 8 42 0 18 38-7 46-4 60 0 84 9 25-1 31-6 25-12 27-24 64-89 14-23 8-23-1-21-9-24-15-25-24-29-84-72-11-14-13-21-50-1-50 11-95-5-18 2-51-1 52 100 4 19 46 4 37 7 85 27 20 16 9 14 6 21 1 24-2 31-8 30-20 34-21 21-31 18-117 35-77 56 6 77-2 28 4 17 0 43 9 5 17 2 25 8 61 0 48 3 14 0 6-3 24 5 43-6 50 5 16-3 16 3 48-7 14 5 2-10 7 1 8-2 19 0-2-8-13-6-48-10-34 1-17-4-52 1-45-5-35 9-31 2-107-11-28 3 20-28 14-27 11-30 19-77 37-80 7-33 4-43-1-32-5-27-20-45-20-27-28-32-21-16-27-14 15-37 18-32 2-10 12-5 37-6 19 2 14-4 48-3 19 3 37-1 31 6 21 36 20 26 77 64 27 31 12 20 8 22 5 23 1 18-5 26-14 30-21 34-18 20-21 15-34 15-32 7-31 1-25-8-21-12-18-15-69-70-34-24-54-27-30-21-5-5 0-16 2-6-3-21 14 5-5 18-4 91-3 24 1 51 3 40-3 47 28-54 2-15 10-25 7-43-2-39 3-48-2-18 3-9 5-60-3-8 2-22-4-29 0-51-3-9 24-1 26 6 43 1 8 3 35 3 36-2 55 6 17 0 13-4 50-3 47 6 23-2 15 2 80-7 46 4 36-5-22 39-6 19-5 33-1 46-6 31 0 40 3 9 0 32-5 14 2 27-37 54-43 51-16 28-12 35-30 122-4 31-31-5-47-74-18-19-18-14-19-13-29-14-23-6-19-1-87 5-85 19-32 3-3 8-2 37-1 75 41-11 31-1 26-7 59-2 24 3 19-1 33-88 48-75 10-43-5-32-12-23-56-49-71-94-26-20-30-13-22-3-63-2 6-22-1-23 58 12 59 3 27 5 117 55 40 12 83 13 34 12 30 19 17 20 10 28 5 29 4 59 7 27 11 22 29 43 28 71 13 18 13 11 6 43 1-14-75 10 59-42-34 69 18-84 59 81-13-31-47 3 12 26 1-26-5 20 34-84-108 51-37-3-36 5-33-3-17 3-50 2-63-4-15 2-21-5-48 3-9-2-27 1-24-4-17 1-14 5-85-1 41-23-57-17 16 58-6 8 38-71 11-39 0-130 27-24 38-28 50-27 20-9 47-16 32-16 58-44 101-56 93-74 36-17 43-10-2-8 3-15-3-27 2-15-36 21-24 10-7-1-17 10-18 28-10 26-11 79-11 48-10 23-23 36-24 26-61 35-36 13-35 3-23-3-23-7-28-19-17-28-16-54-1-28 7-33 41-116 7-78 20-3 33 2 37-5 40 0 17-6 21 4 56-2 43 2-23 10-24 7-17 1-14 5-42 2-50 9-55 4-14 7-106-2 43 19 53 32 117 105 27 21 20 10 22 8 39 4 27-4 25-12 87-74-3-21 5-42-1-63-2-10-6-2-57 1-53-3-37 2-70 158-42 77-6 29 3 25 12 27 21 27 39 38 34 28 67 41 49 42 40 26 3 17-3 30 2 23-2 35-44-26-45-14-12-30-4-25 6-25 8-13 11-10 36-22 49-23-1-38-5-17 4-28 2-70-6-15 0-49-3-8-1-102-5-29 2-34-3-7 2-6-5-27-26 8-49 4-17-2-33 2-48 8-8-3-24 3 15 71 2 31-4 29-23 55-48 73-23 42-14 37-7 29-3 38 6 71 0 72 5 44 0 22-47-12-15 2 17-8 14-2 33-10 51 1 89-10 30 4 35-3 20 3 34-1 55 3-35-5 63 44-53-12-6-44 34 30-52 5 0-25 37 4-41 38-13-17 16-44-6 38 36-37 18 40 47 30-144-56 53 56 46-114-18 73 6-11-33-38 25 11 23 31-36 16 80 37-47-87 30 81-67-50 52-19-5-34-2-50-5-22 2-30 3-7-2-29 1-48 7-26 2-43 4-10-4-16 4-45-6-22-18 3 4 15 2 35 7 41 0 63 4 26-2 56 3 19-3 27 2 41-6 37 5 15-1 11-6 36-26-12-12-20-37-70-16-38-4-19-5-135 5-55 9-48 47-146 4-36-3-42-29 14-32 10-40 2-15 9-8 1-143-4-43 10-33 0-16 4-66-7-53 3-1 49-11 40-11 19-69 85 2 38-3 8 9 54 1 17-5 42 3 52-2 6 3 17-6 34 2 7 5-30-3-46 4-25-1-10 10-67 8 32 20 44 30 58 36 55 10 19 5 22 1 17-7 39-14-10-14-4 17-44 17-28 32-27 69-36 53-37 38-15 99-19 104-10 15-6 66-39 4-45-10-73 6-32-3-17 1-34 5-34-4-31 8-39 0-37-80 34 51-29 22 24-38-46 5 17 5 8 44 16-70 2 24 0 29-52-50 57 15-15 12 27-32-13 43-22 25 3-46 30 31-77-3 8-8 46 26-53-37 118-26-16-25-10-16-13-21-12-45-13-45-5-32 1-34-7-28 6-27-5-31 3-39-3-7 4-84-3 47 37 31 16 64 15 50 1 64-6 63-11 31-9 31-11 21-13 44-36 34-7 6 51-2 31-60 74-22 13-34 5-31-8-66-34-34-13-44-10-60-5-64-29-29-9-27-3-24 2-25 12-35 25-21 22-18 25-5 89 4 23-2 48 3 29 4 18 0 30 3 5-3 57 6 24-5 35 4 16-2 32 4 21-6 55 23 4 54-5 106-119 25-15 27-7 15 2 19 7 19 17 37 48 34 39 24 41 48 3 16-3 49 0 10 2 79-4-19-28-6 16-23-35 9-39-5 37 3 44 3-87-4-46 3-28-4-71 0-48 3-9-4-53 5-100 0-31-5-24 0-45-4-32 3-35-2-9 51 51-29-36 22-41 13 58-40-35 20 0-44-13 35 24 5 11-5-33 9 44 5-5 11-24-11 41-12-55-2 64-1-58 0 49 3-67-1 27 18-33-34 38-12 23 6-17 0-30 24 40 5-37 17 25-37-33 14 17-2 6 29-37-35 57 19-27-45 41 72-88-53 26-14 3-8-2-34 6-44 0-16 3-9-2-9 2-83-1-13-4-35-1-41 4 5 7 29-4 15 2 64-8 31 2 31-5 97 3 66-3-17 39-2 13-14 35 2 15-2 29 4 15-11 59 4 21 7 15 39 55-4 16-2 35-6-4 7-31-1-23 6-59 1-43-2-31 3-8-7 0-29-56-9-30-3-39-41 21-7 0-22 8-22 0-20 4-18 7-77-2-66 10-28-1-15-3-56 1-45-4-31 4-51-2-24 3-24-2-9 2-6 14-7 39 3 17-2 54 4 42-1 15 7 7-1 25 24 31 25 42 27 77 10 20 48 54 29 24 34 15 23 3 63 2 28 9 22 13 24 20 42 55 19 4 31-4 36 1 27 4 28-1-3-10-51 2-34 6-15-4-54-1-35-58-13-33-21-69-11-23-19-27-28-25-29-16-61-21-53-8-62 0-50 7 1 6-5 16 1 29-4 19 2 8-6 50 3 15-4 19-3 87-4 22 24-3 18 3 33-2 20 7 56 2-33-90-38-93-21-31-42-41 0-21 7-29 4-92-2-22 6-52 1-33-5-42 6-30-3-15 2-17 23 55 6 35 2 28-2 44-5 22-13 25-30 29 19 30 34-36 33-29 68-47 23-27 10-23 7-29 0-31-5-33-10-28-27-8-30-5 8 13 10 3 8-1 13 4 8-1 33 1 18-2 14 3 144-10 35 3 7-2 19 6 9 0 54-8 16 1 16-4 8 3 26-2 28 7 11 55-1 24 1 31 5 22 0 26-14 14-11 20-61-21-91-50-19-17-21-33-30-84-34 4-27 0-17-4-33 0-25-5-25 2-6 3-38 0-44-6-30 4-31-3-48 5 1 62-4 15 6 30-2 27 4 14-4 40 2 7-2 13 7 30-3 9 91-11 38 4 61 28 169 93 29 19 53 52 39 27 23 21 33 45 56 97-5 10-39 6-70-3-46 4-36-7-38 1-9 2-64-2-29 3-9-3-46 0-42-5-17 3-29 0 16-46 6-35 1-27-7-33-41-114-3-29 1-19 9-35 27-49 16-23 23-20 16-10 31-12 26-5 58-2 32 3 36 10 31 11 73 39 88 37 46 24-1 15-10 34-43-7-64-29-39-10-42-2-37 5-21 6-26 11-48 28-100 73-145 71-28 10 19 37 25-33 23-43 9-38 5-63 6-30 11-35 17-30 19-24 22-19 36-21 70-32 19-13 15-17 10-20 6-22 3-27-6-33-18-37-21-3-41 10-39 90-5 24 3 34 25 77 19 100 43 93 1 39-5 29-8 25-18 29-19 23-23 18-28 14-17 5-23 0-21-7-17-10-28-30-34-60-23-70-3-33 2-10-10-114 4-30-2-7 6-39-6-54-1-55 3-20-4-19 4-31-3-8 15-5 74-9 16-5 51 1 60-3 37-5 33 4 40 0 1 6 20 3 26-1 23 4 26 0 10-2 7 3 61-5 75 4 16-3 7 26 6 47-2 35-2 8 2 30-4 17-29 23-23 11-20 6-29-3-39-22-37-28-32-33-18-29-23-48-7-21-4-26-36 20-23 4-27 11-25 4-15 0-13 3 19 25 19 16 20 7 13 2 29-5 22-12 20-22 21-38 9 6 25 6 58 24 9-1 56 6 15-3 9 3 46-2-7 15-16 70-1 43-7 18-5 37 2 34-2 24-110 44-30 19-33 30-10 16-8 27-18 102-2 39 2 55 32 6 18 0 62-6 49 3 32-4 25 2 27-3 10-34 5-36-2-27-8-7 9-39-11-17-3-13 0-27-10-83-25 93-5 44 27 170 15 1 0-10 18-54-1-12 3-18 0-7-4-8-4-73 6-49-5-40-2-71 4-23-3-15 3-6 3-31-5-18 0-18 5-31-1-34 3-8-2-17 4-29-3-14 1-27-2-17-25-6-12 0-30-12-44-1-6-2-18 3-31-2-63 6-3 40-10 53 2 58 6 23 8 19 55 82 27 66 16 29 28 33 53 44 29 39-17 112 4 32-22-1-9 3-35 3-42-1-7 3-18-2-39-62-21-43-9-31-4-57 12-102 7-23 13-30 48-83 26-30 53-39 70-34 4-94-19 8-19 11-15 5-35 4-27 6-6-2-26 2-32 4-48-5-16-5-53 3-47-4-54 4-83-2-7-3-14 4-41 3-22-6-39-2 1 14-6 17-6 37 4 22-7 32 2 35-2 6 8-5-2-54-6-39 4-16 1 18 28 48 9 47-1 86-4 33 5 34-3 25 1 49 4 41 2 103 20-13 19-20 8-13 4-19-1-14-9-21-12-15-18-13-22-8-30 0-2 23 12 20 10 39 22-1 28 5 71 24 25 6 33 3 115-2 112-9 100 10 32 6 46 21 3 8-3 6-2 40-25-11-28-16-26-10-31-18-16-4-30-4-31-2-17 2-70-2-33 7-18-4-93 7-79 0 55-51 30-19 33-14 112-8 91 9 19 0 30-8 20-12 20-17 29-39 12-21 6-26-3-22-12-28-20-24-22-15-38-16-31-2-28 7-67 29-21 4-29 0-27-5-22-9-51-28-35-14-37-9-31-2-23 3-56 13-5 41 34-51 18-43 9-46 11-98 13-40 58 13 53 1 17-2 18 4 20-2 22 3 33-3 33 0 46-5 26 1 15 46 13 26 33 49 50 64 20 41 7 31 5 72 6 35 10 28 23 39 6 48-1 10 5 21 0 18 9 27 1 48-30 2 55 31-91-37 32-35 18 4-68 51 92 14-61-8 20-40 5 50 53-9-18-10-84-35-24-15-19-7-16-10-50-12-20 2-16-5-34-2-59 0-23 3-6-2-9 2-41-1-31-6-27 6-46 3-6 3-50-5-34 0-17 3 4-10 9-51-2-18 2-10-4-12 2-39-4-48 1-16 4-13-3-8 0-25 7-83-4-41 3-45-5-22-3-107-22 34 28 24-33-87 43 39-37-24 4 6-11 9 16 1 12 22-17-41 12 57-19-36 65 22-16 11-45-26 9 12 39-4-65-64 50 56-25-5-15-44-2 73 75-12-14-4 28 19-28-12-13 27-44-39 20-9-28-46 14 21 35 23-28-24 7 45 10-28 7-2-50-43 11 67 49-7 11-40 6 1-2 8-13 10-35 20 25 1 0 6-29-15 13 25-26-65 30 52 67 9-105 50 23-91-4 14 6 7-3 78 4 26 1 56-4 58 2 7-1 58 2 8-5 30 3 20-1 14 7 39-4 47 4 22 0 55 16-41 4-23 0-27-11-52-24-52 20-49 25-40 20-46 0-9 7-16 2-31-4-27 24 17 40 20 30 6 22-3 66-30 59-21 91-57 92-41 18 2 32-5 26 2 25-4 11 1-48 53 20-33 6 21 5-45-6 11 24-35 0-5-21 9 3 13 28-30-22 44-13 1 4 1-26 21 43 4-36 41 48-25-5 32-5 13 6 71-8 54 0 23-14 38-11 78-19 36-81 91-23 23-29 19-77 38-47 32-25 21-15 21-10-3-16 3-24-3-34 4-52-5 4-4 19-4 74-2 10-3 42 5 50-6 14 1 14-8 26 6 63-2 29 6 39-4 43 6 33-3 14 2 11-34 3-40-4-15 2-23-3-8 5-60-5-63-4-14 0-41-2-16 2-5-1-14-4-16 0-53 6-77-3-21 1-43-4-26 2-43-3-7-21 36-51-1 95-81-16 47-52 28-18-31 77-28-17 76 11-76-51 89 44-76-21 34 1 15-50-30 37-7 11 40 35-66-1 6-2-15-19 26 0 29-21 20-33-34 17 6 11 61 39-96-10 72-36-3 50-74-55 36 7 32 43-61 12 80-44-30 32-32-31 52-15-12 21-59 30 0-8 14-18 11-16 31 46-31-5-36-36 55 6-1 6-17-8 25 18-14-32 35 29-67-26 20 14 43 27-66-22-2-20 77 42 1-49 2 63-103-44 39 43-38-38 38 37-28-38 55 9-43-7 42-16-7 13 27 2-3-19-23 69 20-26-26-56 42-10 15 20-49 50-37-37 77 2-21-9 21 0-11-31-60 73-3-17 50-26-17 48 4-22 4-9 22-25 15 27-16-31 25 33-47-15 29-5-73-6 68 51-73-70 5-5 33 66-19-38 28 16-7 13 36 4-73 32 76-58-66 47-27-83 60-15 58 30-52 64-49-28 51 9 44 29-115-4 8 2 53-47 35-22-29 56-51-34 23-8-1-37 8-53 4-15-2-14 3-35-6-21 7-18-3 3 32 13 75 16 43 20 29 20 16 36 17 129 30-18 37-8 26-12 16-9 41-4 50 2 69-3 23 3 16-3 7 3 26-1 6 0 61-30-18-21-9-8-19-5-22-2-58 8-33 14-27 54-49 30-40 8-50 0-40-4-26 1-22-4-33 3-23-3-33 3-28-5-34 2-55-47 7-78 29-45 3-47 105-14 23-27 31-21 14-19 9-22 4-67-3-62 3-84-11-47 5-6 16-7 34-2 44 3 14 1 21-4 31 3 15-2 34 2 30-11 55 2 17 8 25-3 14-1 53 38-20-57-18 21 2 52 36-25-48-28 47 15-24 35 49 13-68-16 28 30-92-27 116-34-68 10 47-22 13-24-28 38 23 40-85-44 80 47-9-47 7 19-66-46 71 10-31 24 62 17-53-43 20-10 25-5-62 35 70-4-77-26 73 15-75 3 79 48-53 31-10 34 0 16-4 24 1 8-3 23 4 45-3 40 5 31 0 8 2 8-2 15 2 10-5 26-5 45 2 37-3 29 1 18 4 65-5 31 4-7-9-7-2-53-8-105-12-47-14-95-60-19-16-37-40-29-25-108-70-20-11-24-8-18-3-22 0 3 7 9 4-8 31 2 20-6 36 6 39-2 33-4 7 3 17 9 24 4 85-3 15 102 8 35-2 23 6 70-8 24 0 37-37 66-55 51-64 32-28 48-28 63-18 37-15-13-33-20-19-17-30-9-36-3-42 1-91 5-47 21-57 26-34 6 3-13 23-3 13-8 13-3 23-9 26 1 40-2 22 2 19-5 36 8 68-2 50 3 16-4 15 1 58 5 29-2 31-42 11-32 1-36-10-84-33-24-6-48 3-38 9-24 12-28 21-17 20-14 23-6 16-4 23 2 67 34 2 8-3 34-2 39 3 9-3 45 2 29-4 53 6 117-2 24 6 11-2 15 3-22-54-7-26-2-55-8-52-3-72 6-31-6-131 5-47 3-110 4-25-1-17-80 98-70 113-13 24-25 77-9 68 0 41 7 30 19 31 64 70 61 51 40-10 46-1-19 33 21-104-73 41-2-12 19 66-19-57 44-24-8 74-23-12 30-19 53 10-87-55 48 32-39 54 32-27 49 35-78-87-1 30-10-9 10 49 64-6-107-58 48 71 32-72-60 73 12-43-27-20 31-23 3 51 18-10 23-18-24-4 13 4-12 36-19 23 0 16 51-58 11 31-114-24 23-12 39 35 20 28 10-63 22 42-9-18 11 8 21 27-107-39 23 43-7-79 32 52 15-32 64 65-132-84 85 60-14-38-35 8 57-29-72 36 20 17 39-57 0 62-22 18-57-128 55 62 68 69-56-20 4-44-12 49 29-2-72-9 32-73-5 4 69 92-83-36 38-38 8 35-24-70 24 28-47 46 32-9 6-19 5-31-8-76 3-66-85 34-96 12-45 10-61 18-18 1-16-4-23-17-13-19-16-38-27-95-5-34 2-70-8-39-41-111-18-36-16-25-53-6-16 1-26-7 2 15-2 31 10 1 6 25 0 41 2 10-5 32 5 32 42 47 34 53" stroke-width="3.5" stroke-opacity="0.45"/>
<path d="M175.8 52.1L161.7 38.1M173.2 49.4L161.7 38.3M171.8 51.2L162.2 37.5M172.0 47.2L163.3 37.6M169.8 54.4L162.2 37.5M174.6 57.7L162.4 38.7M177.4 49.4L161.6 38.1M167.7 51.3L163.0 38.3M281.4 47.3L291.8 37.1M281.9 53.2L288.7 35.6M277.0 56.8L289.4 36.5M279.4 53.4L290.4 36.9M276.8 44.2L290.1 36.9M283.1 51.7L289.5 37.0M276.1 49.4L289.2 36.9M285.2 53.9L290.9 36.9M170.7 166.9L160.8 174.2M167.0 164.8L161.6 176.5M172.9 171.9L160.8 176.8M174.9 168.0L161.8 175.9M166.0 168.3L160.4 176.1M168.8 168.8L159.4 177.6M285.4 167.1L296.3 178.0M283.7 169.1L297.3 176.5M279.2 171.4L297.2 176.9M279.8 164.4L296.2 178.9M281.4 170.8L297.1 176.9M280.4 173.8L296.4 177.2M285.1 168.2L297.0 179.1M277.5 169.1L296.2 176.9M175.1 44.0c-1.7 -3.3 2.5 -4.2 1.2 0M234.4 44.0c-2.4 -4.8 3.6 -6.1 1.7 0M189.8 44.0c-2.4 -4.9 3.7 -6.1 1.7 0M268.6 44.0c-2.1 -4.1 3.1 -5.2 1.4 0M220.3 44.0c-1.8 -3.7 2.8 -4.6 1.3 0M205.6 44.0c-3.0 -5.9 4.4 -7.4 2.1 0M214.9 44.0c-2.9 -5.9 4.4 -7.4 2.1 0M270.9 44.0c-2.4 -4.8 3.6 -6.0 1.7 0M202.3 44.0c-3.0 -5.9 4.5 -7.4 2.1 0M227.1 44.0c-2.1 -4.2 3.2 -5.3 1.5 0M208.5 44.0c-3.0 -6.0 4.5 -7.4 2.1 0M226.6 44.0c-1.9 -3.9 2.9 -4.8 1.4 0M225.1 44.0c-1.7 -3.4 2.5 -4.2 1.2 0M240.3 44.0c-2.2 -4.3 3.2 -5.4 1.5 0M205.8 44.0c-2.7 -5.3 4.0 -6.7 1.9 0M261.8 44.0c-1.5 -3.0 2.3 -3.8 1.1 0M230.9 44.0c-1.9 -3.8 2.9 -4.8 1.3 0M273.2 44.0c-2.7 -5.3 4.0 -6.7 1.9 0M167.0 83.3q-1.8 -1.4 -3.1 -0.4q0.9 1.4 2.5 1.1M167.0 168.7q-1.9 0.4 -3.2 0.1q1.0 -0.4 2.5 -0.3M167.0 109.6q-2.7 0.4 -4.6 0.1q1.4 -0.4 3.7 -0.3M167.0 140.5q-1.5 1.0 -2.5 0.3q0.7 -1.0 2.0 -0.8M167.0 89.6q-2.5 -0.7 -4.1 -0.2q1.2 0.7 3.3 0.5M167.0 89.1q-2.5 -0.1 -4.1 -0.0q1.2 0.1 3.3 0.1M167.0 96.5q-3.0 0.4 -5.0 0.1q1.5 -0.4 4.0 -0.3M167.0 59.2q-1.8 -0.2 -3.0 -0.1q0.9 0.2 2.4 0.1M167.0 160.4q-3.3 0.2 -5.6 0.1q1.7 -0.2 4.4 -0.1M167.0 56.7q-3.1 -0.3 -5.1 -0.1q1.5 0.3 4.1 0.2M167.0 121.2q-2.9 0.5 -4.8 0.2q1.4 -0.5 3.9 -0.4M167.0 110.4q-3.4 -0.5 -5.6 -0.1q1.7 0.5 4.5 0.4M167.0 100.1q-3.2 -1.2 -5.4 -0.4q1.6 1.2 4.3 1.0M167.0 89.1q-3.2 -1.7 -5.3 -0.5q1.6 1.7 4.3 1.4M167.0 151.2q-2.9 -0.3 -4.8 -0.1q1.4 0.3 3.8 0.2M167.0 87.9q-3.1 1.6 -5.1 0.5q1.5 -1.6 4.1 -1.3M167.0 71.4q-2.3 0.2 -3.9 0.1q1.2 -0.2 3.1 -0.2M167.0 112.2q-2.0 -1.4 -3.3 -0.4q1.0 1.4 2.7 1.1M167.0 122.4q-3.1 -1.7 -5.2 -0.5q1.6 1.7 4.2 1.4M167.0 81.5q-3.2 1.2 -5.3 0.4q1.6 -1.2 4.2 -0.9M167.0 131.3q-1.3 0.9 -2.1 0.3q0.6 -0.9 1.7 -0.7M167.0 167.5q-3.6 0.8 -6.0 0.2q1.8 -0.8 4.8 -0.6M287.0 65.3q3.2 -1.1 5.4 -0.3q-1.6 1.1 -4.3 0.9M287.0 129.7q3.5 0.8 5.8 0.3q-1.7 -0.8 -4.6 -0.7M287.0 74.5q1.9 1.7 3.2 0.5q-1.0 -1.7 -2.5 -1.3M287.0 76.2q2.7 -0.3 4.4 -0.1q-1.3 0.3 -3.6 0.3M287.0 77.4q2.7 -1.8 4.5 -0.5q-1.3 1.8 -3.6 1.5M287.0 71.7q2.1 -1.7 3.5 -0.5q-1.1 1.7 -2.8 1.4M287.0 66.2q2.6 1.0 4.3 0.3q-1.3 -1.0 -3.4 -0.8M287.0 154.9q1.5 -0.3 2.5 -0.1q-0.8 0.3 -2.0 0.2M287.0 94.0q2.6 -0.0 4.4 -0.0q-1.3 0.0 -3.5 0.0M287.0 161.4q2.1 -1.8 3.5 -0.5q-1.0 1.8 -2.8 1.4M287.0 135.3q1.6 0.5 2.6 0.2q-0.8 -0.5 -2.1 -0.4M287.0 114.6q3.4 0.2 5.6 0.1q-1.7 -0.2 -4.5 -0.2M287.0 127.1q1.8 0.2 3.1 0.1q-0.9 -0.2 -2.4 -0.2M287.0 87.5q3.0 0.1 5.0 0.0q-1.5 -0.1 -4.0 -0.1M287.0 74.4q1.8 -0.5 2.9 -0.2q-0.9 0.5 -2.4 0.4M287.0 139.6q1.6 0.9 2.7 0.3q-0.8 -0.9 -2.2 -0.7M287.0 130.7q1.4 0.7 2.3 0.2q-0.7 -0.7 -1.9 -0.5M287.0 69.8q1.5 0.4 2.5 0.1q-0.7 -0.4 -2.0 -0.3M200.1 172.0q-0.1 1.7 -0.0 2.8q0.1 -0.8 0.1 -2.3M208.9 172.0q-1.9 1.6 -0.6 2.7q1.9 -0.8 1.5 -2.2M251.1 172.0q-1.4 0.9 -0.4 1.6q1.4 -0.5 1.1 -1.3M275.0 172.0q-1.1 1.5 -0.3 2.5q1.1 -0.8 0.9 -2.0M187.2 172.0q0.7 1.8 0.2 3.0q-0.7 -0.9 -0.5 -2.4M261.2 172.0q0.5 1.0 0.1 1.7q-0.5 -0.5 -0.4 -1.4M212.2 172.0q-0.7 1.1 -0.2 1.9q0.7 -0.6 0.5 -1.5M239.4 172.0q-0.5 1.2 -0.1 2.0q0.5 -0.6 0.4 -1.6M189.3 172.0q0.6 1.6 0.2 2.7q-0.6 -0.8 -0.5 -2.2M259.5 172.0q1.4 1.3 0.4 2.2q-1.4 -0.6 -1.1 -1.7" stroke-width="0.7" stroke-opacity="0.5"/></g>
</svg>
</body></html>
